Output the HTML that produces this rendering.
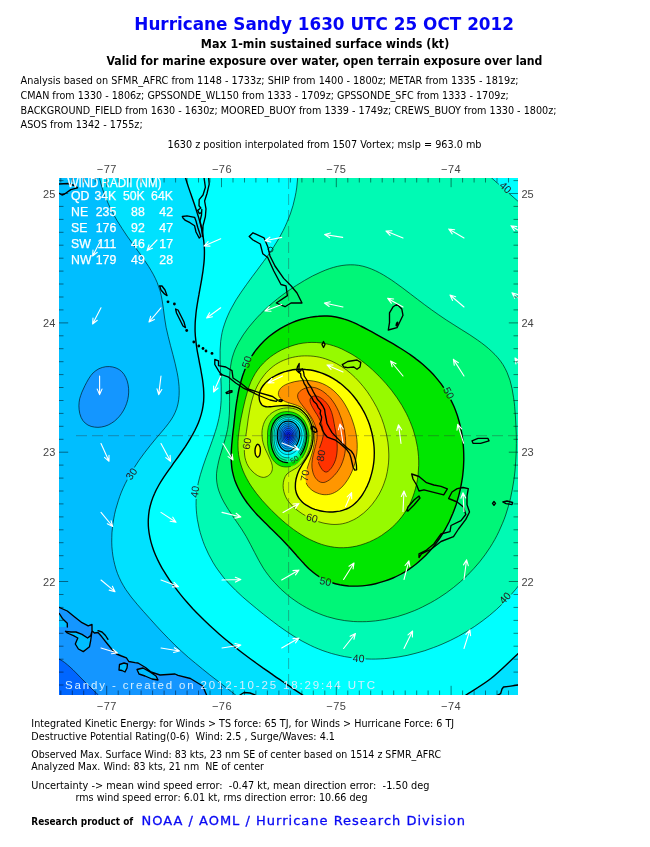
<!DOCTYPE html>
<html><head><meta charset="utf-8"><title>Hurricane Sandy 1630 UTC 25 OCT 2012</title>
<style>html,body{margin:0;padding:0;background:#fff}svg{display:block}text{font-family:"DejaVu Sans","Liberation Sans",sans-serif}.t{fill:#000;font-size:10px}.b{font-weight:bold}.ax{font-family:"Liberation Sans","DejaVu Sans",sans-serif;font-size:11px;fill:#444}.wr{font-family:"Liberation Sans","DejaVu Sans",sans-serif;font-size:12.3px;fill:#fff;stroke:#fff;stroke-width:0.25px}.bt{font-family:"Liberation Sans","DejaVu Sans",sans-serif;font-size:11.5px;fill:#d4efff}.cl{font-family:"Liberation Sans","DejaVu Sans",sans-serif;font-size:10.5px;fill:#222}</style></head><body>
<svg width="650" height="847" viewBox="0 0 650 847">
<rect width="650" height="847" fill="#fff"/>
<defs><clipPath id="m"><rect x="59" y="178" width="459" height="517"/></clipPath></defs>
<text x="134.3" y="29.8" class="b" textLength="379.7" lengthAdjust="spacingAndGlyphs" style="font-size:17px;fill:#0404f6">Hurricane Sandy 1630 UTC 25 OCT 2012</text>
<text x="200.8" y="48.2" class="b" textLength="248.5" lengthAdjust="spacingAndGlyphs" style="font-size:12px">Max 1-min sustained surface winds (kt)</text>
<text x="106.4" y="65.2" class="b" textLength="436.0" lengthAdjust="spacingAndGlyphs" style="font-size:12px">Valid for marine exposure over water, open terrain exposure over land</text>
<text x="20.6" y="84.2" class="t" textLength="498.0" lengthAdjust="spacingAndGlyphs" >Analysis based on SFMR_AFRC from 1148 - 1733z; SHIP from 1400 - 1800z; METAR from 1335 - 1819z;</text>
<text x="20.6" y="99.0" class="t" textLength="488.1" lengthAdjust="spacingAndGlyphs" >CMAN from 1330 - 1806z; GPSSONDE_WL150 from 1333 - 1709z; GPSSONDE_SFC from 1333 - 1709z;</text>
<text x="20.6" y="113.5" class="t" textLength="535.9" lengthAdjust="spacingAndGlyphs" >BACKGROUND_FIELD from 1630 - 1630z; MOORED_BUOY from 1339 - 1749z; CREWS_BUOY from 1330 - 1800z;</text>
<text x="20.6" y="128.4" class="t" textLength="122.1" lengthAdjust="spacingAndGlyphs" >ASOS from 1342 - 1755z;</text>
<text x="167.5" y="147.8" class="t" textLength="314.0" lengthAdjust="spacingAndGlyphs" >1630 z position interpolated from 1507 Vortex; mslp = 963.0 mb</text>
<g clip-path="url(#m)">
<rect x="58" y="177" width="461" height="519" fill="#00beff"/>
<mask id="lm" maskUnits="userSpaceOnUse" x="0" y="0" width="650" height="847"><rect width="650" height="847" fill="#fff"/>
<rect x="124.5" y="469.5" width="14" height="9" fill="#000" transform="rotate(-55 131.5 474.0)"/>
<rect x="188.0" y="487.2" width="14" height="9" fill="#000" transform="rotate(-82 195.0 491.7)"/>
<rect x="351.6" y="654.0" width="14" height="9" fill="#000" transform="rotate(3 358.6 658.5)"/>
<rect x="498.0" y="593.5" width="14" height="9" fill="#000" transform="rotate(-48 505.0 598.0)"/>
<rect x="498.5" y="183.0" width="14" height="9" fill="#000" transform="rotate(42 505.5 187.5)"/>
<rect x="239.8" y="357.5" width="14" height="9" fill="#000" transform="rotate(-72 246.8 362.0)"/>
<rect x="441.6" y="388.5" width="14" height="9" fill="#000" transform="rotate(62 448.6 393.0)"/>
<rect x="318.5" y="577.0" width="14" height="9" fill="#000" transform="rotate(12 325.5 581.5)"/>
<rect x="240.0" y="439.0" width="14" height="9" fill="#000" transform="rotate(-80 247.0 443.5)"/>
<rect x="305.0" y="513.5" width="14" height="9" fill="#000" transform="rotate(15 312.0 518.0)"/>
<rect x="298.0" y="471.0" width="14" height="9" fill="#000" transform="rotate(-80 305.0 475.5)"/>
<rect x="314.0" y="451.0" width="14" height="9" fill="#000" transform="rotate(-80 321.0 455.5)"/>
<rect x="287.5" y="455.0" width="14" height="9" fill="#000" transform="rotate(-35 294.5 459.5)"/>
</mask>
<defs>
<path id="s0" d="M78.9 405.8C78.9 403.3 79.2 401.0 79.7 398.7C80.3 396.5 81.1 394.4 81.9 392.2C82.8 390.1 83.8 387.9 84.9 385.7C86.1 383.5 87.2 381.1 88.6 378.9C89.9 376.8 91.4 374.6 93.1 372.9C94.9 371.2 96.9 369.8 99.0 368.7C101.1 367.7 103.5 367.0 105.8 366.7C108.1 366.5 110.6 366.5 112.8 367.0C115.0 367.5 117.2 368.3 119.1 369.5C121.0 370.7 122.7 372.4 124.0 374.3C125.3 376.2 126.4 378.6 127.2 380.9C127.9 383.2 128.4 385.8 128.6 388.3C128.8 390.8 128.7 393.4 128.4 395.9C128.1 398.4 127.5 400.9 126.7 403.3C125.9 405.6 124.9 408.0 123.7 410.1C122.5 412.3 121.0 414.4 119.5 416.2C117.9 418.1 116.1 419.8 114.3 421.3C112.4 422.7 110.3 424.0 108.2 425.0C106.1 425.9 103.8 426.7 101.5 427.0C99.2 427.4 96.7 427.5 94.5 427.1C92.2 426.8 89.9 426.2 88.0 425.1C86.1 424.0 84.2 422.5 82.9 420.6C81.5 418.8 80.5 416.2 79.8 413.7C79.2 411.3 78.9 408.3 78.9 405.8Z"/>
<path id="s1" d="M40.0 607.3L59.0 607.3L67.3 611.0L74.7 617.0L82.0 622.7L88.2 625.8L92.0 624.5L92.0 630.7L94.4 633.0L98.0 632.5L101.8 636.8L106.7 643.0L111.6 649.0L116.5 654.0L121.5 656.0L126.4 657.8L128.8 661.5L135.0 662.7L138.0 663.0L145.5 667.5L151.0 672.0L160.0 675.0L175.0 674.0L178.0 675.4L190.4 678.5L202.7 686.0L207.0 696.0L210.0 710.0L40.0 710.0Z"/>
<path id="s2" d="M58.0 613.5L59.3 613.5L62.4 618.4L67.3 623.3L67.3 627.0L58.0 627.0Z"/>
<path id="s3" d="M65.5 631.3L71.0 632.0L76.0 632.0L82.0 634.4L87.6 638.0L90.7 635.6L92.0 631.0L90.7 640.5L89.5 646.7L86.0 649.5L83.3 651.6L78.4 649.0L75.3 644.0L77.8 638.0L73.5 635.6L67.3 633.0Z"/>
<path id="s4" d="M119.5 664.5L124.0 663.0L127.5 664.0L127.0 668.0L125.0 672.0L122.0 670.5L119.0 670.0Z"/>
<path id="s5" d="M137.0 669.5L143.0 668.0L150.0 672.0L156.0 676.0L158.0 680.0L152.0 679.0L145.0 676.0L139.0 674.0Z"/>
<path id="s6" d="M45.0 655.0C47.3 655.7 54.8 657.0 59.0 659.0C63.2 661.0 66.2 663.7 70.0 667.0C73.8 670.3 78.3 675.3 82.0 679.0C85.7 682.7 89.3 686.3 92.0 689.0C94.7 691.7 96.2 692.8 98.4 695.0C100.6 697.2 103.9 700.8 105.0 702.0L40.0 720.0L40.0 655.0Z"/>
<path id="s7" d="M97.1 159.9C97.3 161.4 97.6 166.2 98.0 169.3C98.5 172.4 99.0 175.5 99.7 178.5C100.3 181.5 101.1 184.4 102.0 187.4C102.9 190.3 103.9 193.2 105.0 196.0C106.1 198.8 107.3 201.6 108.6 204.4C109.8 207.2 111.2 209.9 112.6 212.6C114.0 215.3 115.5 217.9 117.1 220.6C118.7 223.2 120.3 225.8 122.0 228.4C123.6 231.0 125.4 233.6 127.1 236.1C128.9 238.7 130.7 241.2 132.6 243.7C134.4 246.2 136.3 248.7 138.1 251.2C139.9 253.7 141.7 256.2 143.5 258.8C145.3 261.3 147.0 263.8 148.6 266.4C150.2 269.0 151.8 271.6 153.2 274.2C154.6 276.9 156.0 279.6 157.1 282.3C158.2 285.1 159.2 287.9 160.1 290.8C160.9 293.7 161.5 296.6 162.0 299.6C162.6 302.6 162.9 305.7 163.4 308.8C163.8 311.8 164.1 314.9 164.6 318.0C165.1 321.1 165.5 324.2 166.1 327.3C166.7 330.3 167.5 333.4 168.2 336.4C168.9 339.5 169.7 342.5 170.5 345.6C171.3 348.6 172.2 351.6 172.9 354.6C173.7 357.7 174.5 360.7 175.2 363.7C175.9 366.7 176.6 369.7 177.2 372.8C177.8 375.8 178.3 378.8 178.6 381.9C179.0 384.9 179.2 387.9 179.2 390.9C179.2 393.9 179.1 396.8 178.7 399.7C178.3 402.6 177.7 405.4 176.8 408.2C175.9 410.9 174.7 413.6 173.3 416.2C171.9 418.8 170.1 421.3 168.3 423.7C166.5 426.2 164.4 428.6 162.4 431.0C160.4 433.4 158.3 435.8 156.2 438.2C154.2 440.6 152.2 443.0 150.3 445.4C148.3 447.9 146.4 450.3 144.5 452.8C142.7 455.2 140.9 457.7 139.1 460.2C137.4 462.7 135.7 465.2 134.1 467.8C132.4 470.4 130.9 473.0 129.4 475.6C127.9 478.3 126.5 481.0 125.2 483.7C123.8 486.5 122.6 489.2 121.4 492.1C120.3 494.9 119.2 497.8 118.3 500.8C117.3 503.7 116.4 506.7 115.6 509.8C114.9 512.8 114.2 515.8 113.7 518.9C113.1 522.0 112.7 525.1 112.4 528.2C112.0 531.3 111.8 534.4 111.8 537.5C111.7 540.6 111.7 543.7 111.9 546.8C112.1 549.8 112.5 552.9 112.9 555.9C113.4 558.9 114.0 561.9 114.8 564.8C115.5 567.7 116.4 570.6 117.5 573.5C118.6 576.3 119.8 579.0 121.2 581.7C122.6 584.4 124.2 587.0 125.8 589.6C127.5 592.1 129.4 594.6 131.2 597.0C133.1 599.5 135.1 601.9 137.1 604.2C139.1 606.6 141.2 609.0 143.3 611.3C145.4 613.6 147.4 615.9 149.5 618.2C151.6 620.5 153.7 622.8 155.7 625.1C157.8 627.4 159.9 629.6 162.0 631.9C164.1 634.1 166.3 636.3 168.4 638.5C170.6 640.7 172.7 642.9 174.9 645.0C177.1 647.1 179.3 649.2 181.6 651.3C183.8 653.3 186.1 655.4 188.4 657.4C190.7 659.4 193.1 661.4 195.5 663.3C197.8 665.3 200.2 667.2 202.6 669.1C205.0 671.1 207.4 673.0 209.8 674.9C212.3 676.8 214.7 678.7 217.1 680.5C219.6 682.4 222.0 684.3 224.4 686.2C226.8 688.1 229.3 690.0 231.7 691.9C234.1 693.8 236.5 695.7 238.9 697.7C241.2 699.6 244.8 702.6 245.9 703.6L246.0 730.0L600.0 730.0L600.0 140.0L97.0 140.0Z"/>
<path id="s8" d="M181.0 160.2C181.4 161.6 182.2 165.9 182.9 168.8C183.7 171.7 184.5 174.6 185.4 177.5C186.3 180.5 187.2 183.4 188.2 186.4C189.2 189.3 190.2 192.3 191.3 195.3C192.3 198.2 193.3 201.2 194.4 204.2C195.4 207.2 196.4 210.2 197.3 213.3C198.3 216.3 199.2 219.3 200.0 222.3C200.8 225.3 201.5 228.4 202.2 231.4C202.8 234.4 203.3 237.4 203.7 240.5C204.1 243.5 204.3 246.5 204.4 249.5C204.5 252.6 204.4 255.6 204.3 258.6C204.1 261.6 203.8 264.6 203.4 267.7C203.1 270.7 202.6 273.7 202.1 276.7C201.7 279.7 201.1 282.8 200.5 285.8C200.0 288.8 199.4 291.8 198.9 294.9C198.3 297.9 197.8 301.0 197.3 304.0C196.8 307.1 196.3 310.1 196.0 313.2C195.7 316.3 195.4 319.4 195.2 322.5C195.1 325.6 195.0 328.7 195.1 331.8C195.2 334.9 195.5 338.0 195.9 341.2C196.2 344.3 196.7 347.5 197.2 350.6C197.8 353.8 198.4 356.9 199.0 360.1C199.5 363.2 200.2 366.3 200.8 369.5C201.3 372.6 201.9 375.7 202.4 378.7C202.8 381.8 203.2 384.9 203.5 387.9C203.7 390.9 203.9 393.9 203.8 396.9C203.8 399.8 203.6 402.7 203.1 405.6C202.7 408.5 202.1 411.3 201.3 414.1C200.5 416.9 199.6 419.7 198.5 422.4C197.4 425.1 196.1 427.8 194.8 430.5C193.4 433.2 192.0 435.8 190.4 438.4C188.9 441.1 187.2 443.7 185.5 446.3C183.8 448.8 182.0 451.4 180.2 454.0C178.4 456.6 176.6 459.1 174.7 461.7C172.9 464.3 171.0 466.8 169.2 469.4C167.4 471.9 165.6 474.5 163.8 477.1C162.1 479.7 160.4 482.3 158.9 485.0C157.4 487.7 155.9 490.4 154.7 493.2C153.4 496.0 152.3 498.8 151.4 501.7C150.5 504.6 149.7 507.6 149.2 510.6C148.7 513.7 148.4 516.8 148.3 519.8C148.2 522.9 148.3 526.0 148.6 529.0C148.9 532.0 149.4 535.0 150.0 537.9C150.6 540.9 151.4 543.8 152.4 546.7C153.3 549.6 154.4 552.5 155.6 555.3C156.8 558.1 158.1 560.9 159.6 563.6C161.0 566.4 162.5 569.1 164.2 571.7C165.8 574.4 167.5 577.0 169.3 579.6C171.0 582.2 172.9 584.7 174.8 587.2C176.7 589.7 178.6 592.2 180.6 594.6C182.5 597.0 184.5 599.4 186.6 601.8C188.6 604.1 190.7 606.4 192.8 608.7C194.9 610.9 197.0 613.1 199.2 615.3C201.4 617.5 203.6 619.7 205.8 621.8C208.0 623.9 210.2 626.0 212.5 628.1C214.8 630.2 217.1 632.2 219.4 634.2C221.7 636.2 224.1 638.2 226.5 640.2C228.8 642.1 231.2 644.1 233.6 646.0C236.0 647.9 238.4 649.8 240.9 651.7C243.3 653.5 245.8 655.4 248.2 657.2C250.7 659.1 253.2 660.9 255.7 662.7C258.2 664.5 260.7 666.3 263.2 668.1C265.7 669.8 268.2 671.6 270.8 673.4C273.3 675.1 275.8 676.9 278.4 678.6C280.9 680.4 283.5 682.1 286.0 683.9C288.6 685.6 291.1 687.3 293.7 689.1C296.2 690.8 298.8 692.5 301.3 694.2C303.9 696.0 306.4 697.7 309.0 699.4C311.5 701.2 315.3 703.8 316.6 704.6L317.0 730.0L452.0 730.0L452.0 704.0C454.3 702.5 459.6 699.2 466.0 695.0C472.4 690.8 482.4 685.2 490.6 678.8C498.8 672.4 508.4 662.7 515.0 656.6C521.6 650.5 527.5 644.4 530.0 642.0L600.0 642.0L600.0 140.0L181.0 140.0Z"/>
<path id="s9" d="M297.7 159.7C297.7 161.3 298.0 166.2 298.0 169.4C298.0 172.6 297.8 175.7 297.6 178.8C297.4 181.9 297.1 184.9 296.7 187.9C296.3 190.9 295.7 193.9 295.1 196.8C294.5 199.8 293.8 202.6 293.0 205.5C292.2 208.4 291.3 211.2 290.3 214.0C289.3 216.8 288.2 219.5 287.0 222.2C285.9 225.0 284.6 227.7 283.3 230.3C281.9 233.0 280.5 235.7 279.0 238.3C277.5 240.9 275.9 243.5 274.2 246.1C272.6 248.7 270.8 251.3 269.0 253.9C267.3 256.4 265.4 259.0 263.5 261.5C261.7 264.1 259.8 266.6 257.9 269.1C256.0 271.7 254.1 274.2 252.2 276.7C250.3 279.3 248.4 281.8 246.6 284.4C244.7 286.9 242.9 289.5 241.2 292.1C239.4 294.6 237.7 297.2 236.1 299.8C234.5 302.5 233.0 305.1 231.6 307.8C230.2 310.4 228.8 313.1 227.7 315.8C226.5 318.5 225.4 321.3 224.5 324.1C223.5 326.9 222.7 329.7 222.1 332.5C221.5 335.4 221.1 338.3 220.7 341.3C220.4 344.2 220.2 347.2 220.1 350.2C220.0 353.2 220.0 356.2 220.1 359.2C220.1 362.3 220.2 365.3 220.4 368.4C220.5 371.5 220.7 374.6 220.8 377.6C220.9 380.7 221.1 383.8 221.2 386.9C221.2 390.0 221.3 393.0 221.2 396.1C221.2 399.1 221.1 402.2 220.8 405.2C220.6 408.2 220.2 411.2 219.7 414.2C219.2 417.1 218.5 420.1 217.8 423.0C217.1 425.9 216.2 428.8 215.3 431.7C214.4 434.6 213.4 437.5 212.4 440.3C211.4 443.2 210.3 446.0 209.3 448.9C208.2 451.8 207.2 454.6 206.1 457.4C205.1 460.3 204.1 463.2 203.1 466.0C202.2 468.9 201.2 471.7 200.4 474.6C199.6 477.5 198.8 480.4 198.2 483.3C197.6 486.2 197.1 489.2 196.8 492.1C196.4 495.1 196.2 498.1 196.1 501.1C196.0 504.1 196.1 507.1 196.3 510.1C196.5 513.2 196.9 516.2 197.3 519.2C197.8 522.2 198.4 525.2 199.1 528.2C199.8 531.2 200.6 534.1 201.6 537.1C202.5 540.0 203.6 542.9 204.7 545.7C205.9 548.6 207.2 551.4 208.5 554.1C209.9 556.9 211.4 559.6 212.9 562.2C214.5 564.9 216.1 567.4 217.9 569.9C219.6 572.4 221.4 574.8 223.3 577.1C225.2 579.5 227.2 581.7 229.3 583.9C231.3 586.1 233.4 588.2 235.6 590.3C237.7 592.4 240.0 594.5 242.2 596.5C244.5 598.5 246.8 600.5 249.2 602.5C251.5 604.5 253.9 606.4 256.3 608.4C258.7 610.4 261.1 612.3 263.5 614.3C266.0 616.2 268.5 618.2 271.0 620.1C273.5 622.0 276.0 623.9 278.5 625.8C281.1 627.6 283.6 629.5 286.2 631.2C288.8 633.0 291.4 634.7 294.1 636.4C296.7 638.0 299.4 639.6 302.1 641.1C304.8 642.6 307.5 644.0 310.3 645.3C313.1 646.7 315.8 647.9 318.7 649.0C321.5 650.2 324.3 651.2 327.2 652.1C330.0 653.1 332.9 653.9 335.8 654.6C338.7 655.4 341.6 656.0 344.6 656.6C347.5 657.1 350.4 657.6 353.4 658.0C356.4 658.3 359.3 658.6 362.3 658.8C365.3 659.0 368.3 659.1 371.3 659.1C374.3 659.1 377.3 659.1 380.2 658.9C383.2 658.8 386.2 658.5 389.2 658.2C392.2 657.9 395.2 657.5 398.2 657.0C401.2 656.5 404.2 656.0 407.1 655.4C410.1 654.7 413.0 654.0 416.0 653.2C418.9 652.4 421.8 651.6 424.8 650.7C427.7 649.7 430.6 648.7 433.4 647.6C436.3 646.6 439.1 645.4 442.0 644.2C444.8 643.0 447.6 641.7 450.4 640.4C453.1 639.0 455.9 637.6 458.6 636.2C461.3 634.7 463.9 633.1 466.6 631.5C469.2 629.9 471.8 628.3 474.4 626.6C477.0 624.8 479.5 623.1 482.0 621.2C484.4 619.4 486.9 617.5 489.3 615.6C491.6 613.6 494.0 611.6 496.3 609.6C498.6 607.5 500.8 605.4 503.0 603.2C505.2 601.1 507.3 598.9 509.4 596.6C511.5 594.4 513.5 592.1 515.4 589.7C517.4 587.4 519.3 585.0 521.1 582.6C522.9 580.1 524.7 577.7 526.4 575.1C528.1 572.6 530.4 568.7 531.2 567.5L560.0 568.0L560.0 220.0L540.0 220.0C536.2 216.8 525.5 207.8 517.5 200.8C509.4 193.8 498.8 184.3 491.7 178.0C484.6 171.7 477.8 165.5 475.0 163.0L475.0 140.0L298.0 140.0Z"/>
<path id="s10" d="M243.2 334.9C244.9 332.5 246.6 330.1 248.4 327.7C250.2 325.4 252.1 323.1 254.1 320.9C256.1 318.6 258.1 316.4 260.3 314.2C262.4 312.0 264.6 309.9 266.8 307.8C269.1 305.8 271.4 303.7 273.8 301.8C276.2 299.8 278.7 297.8 281.1 296.0C283.6 294.1 286.2 292.2 288.7 290.5C291.3 288.7 293.9 287.0 296.6 285.3C299.2 283.6 301.9 282.0 304.6 280.4C307.3 278.9 310.0 277.3 312.7 275.9C315.5 274.5 318.2 273.2 321.0 272.0C323.8 270.8 326.5 269.6 329.3 268.7C332.1 267.8 334.9 266.9 337.7 266.3C340.5 265.7 343.3 265.2 346.1 265.0C348.9 264.8 351.7 264.7 354.5 264.9C357.3 265.1 360.1 265.5 362.9 266.2C365.7 266.9 368.4 267.8 371.2 268.9C373.9 270.0 376.7 271.3 379.4 272.7C382.1 274.1 384.8 275.7 387.4 277.4C390.1 279.0 392.7 280.8 395.3 282.7C397.9 284.5 400.4 286.4 402.9 288.2C405.5 290.1 407.9 292.0 410.4 293.9C412.8 295.7 415.2 297.6 417.6 299.4C419.9 301.2 422.3 302.9 424.6 304.7C427.0 306.4 429.3 308.2 431.7 309.9C434.0 311.6 436.4 313.3 438.8 314.9C441.2 316.6 443.7 318.3 446.2 319.9C448.7 321.6 451.3 323.2 453.9 324.8C456.5 326.5 459.2 328.1 461.8 329.8C464.5 331.4 467.2 333.1 469.8 334.8C472.4 336.5 475.0 338.3 477.6 340.1C480.1 341.8 482.6 343.7 485.0 345.6C487.3 347.5 489.7 349.4 491.8 351.5C494.0 353.5 496.0 355.6 497.9 357.8C499.7 360.0 501.5 362.3 503.0 364.7C504.5 367.1 505.8 369.7 507.0 372.3C508.1 374.9 509.1 377.6 510.0 380.3C510.8 383.1 511.5 385.9 512.1 388.8C512.7 391.7 513.2 394.7 513.6 397.7C514.1 400.7 514.4 403.7 514.7 406.7C515.0 409.8 515.2 412.8 515.4 415.9C515.6 419.0 515.8 422.0 515.9 425.1C516.1 428.2 516.2 431.3 516.3 434.3C516.3 437.4 516.4 440.5 516.4 443.6C516.3 446.6 516.3 449.7 516.2 452.8C516.1 455.8 515.9 458.9 515.7 461.9C515.5 465.0 515.3 468.0 515.0 471.0C514.7 474.0 514.3 477.1 513.9 480.0C513.4 483.0 513.0 486.0 512.4 489.0C511.9 491.9 511.3 494.9 510.6 497.8C509.9 500.7 509.2 503.6 508.3 506.5C507.5 509.3 506.6 512.2 505.7 515.0C504.7 517.8 503.7 520.6 502.5 523.3C501.4 526.1 500.2 528.8 498.9 531.5C497.6 534.2 496.3 536.8 494.8 539.5C493.4 542.1 491.8 544.6 490.2 547.2C488.6 549.7 486.9 552.2 485.1 554.7C483.3 557.1 481.5 559.5 479.6 561.9C477.7 564.2 475.7 566.5 473.6 568.8C471.6 571.0 469.4 573.2 467.3 575.4C465.1 577.5 462.9 579.6 460.6 581.6C458.3 583.6 455.9 585.6 453.5 587.5C451.1 589.4 448.7 591.2 446.2 593.0C443.7 594.8 441.1 596.5 438.5 598.1C435.9 599.7 433.3 601.3 430.7 602.7C428.0 604.2 425.3 605.6 422.6 606.9C419.8 608.3 417.1 609.5 414.3 610.7C411.5 611.8 408.7 612.9 405.8 613.9C403.0 614.9 400.1 615.8 397.3 616.6C394.4 617.4 391.5 618.1 388.6 618.7C385.7 619.4 382.8 619.9 379.8 620.3C376.9 620.8 374.0 621.1 371.0 621.3C368.1 621.6 365.2 621.7 362.2 621.7C359.3 621.7 356.3 621.7 353.4 621.5C350.5 621.3 347.6 621.0 344.7 620.6C341.7 620.1 338.8 619.6 336.0 619.0C333.1 618.3 330.2 617.5 327.4 616.7C324.5 615.8 321.7 614.8 318.9 613.6C316.1 612.5 313.3 611.3 310.6 609.9C307.9 608.6 305.2 607.1 302.6 605.5C300.0 604.0 297.4 602.3 294.9 600.5C292.3 598.8 289.9 596.9 287.5 595.0C285.1 593.0 282.8 591.0 280.6 588.9C278.4 586.8 276.3 584.6 274.3 582.3C272.2 580.1 270.3 577.8 268.5 575.4C266.6 573.0 264.9 570.6 263.3 568.1C261.7 565.6 260.3 563.0 258.8 560.4C257.4 557.9 256.1 555.2 254.7 552.6C253.4 550.0 252.0 547.3 250.6 544.7C249.2 542.0 247.8 539.4 246.3 536.7C244.8 534.1 243.1 531.5 241.5 528.9C239.8 526.3 238.0 523.8 236.2 521.2C234.5 518.6 232.7 516.1 231.0 513.5C229.3 510.9 227.6 508.4 226.1 505.8C224.5 503.2 223.1 500.7 221.8 498.0C220.6 495.4 219.5 492.8 218.6 490.2C217.8 487.5 217.1 484.8 216.8 482.1C216.4 479.4 216.4 476.6 216.5 473.8C216.7 471.0 217.2 468.1 217.8 465.3C218.3 462.4 219.1 459.5 219.9 456.5C220.8 453.6 221.7 450.6 222.6 447.6C223.5 444.7 224.5 441.6 225.3 438.6C226.1 435.6 226.9 432.5 227.5 429.5C228.1 426.4 228.5 423.4 228.8 420.3C229.2 417.2 229.3 414.1 229.5 411.0C229.6 408.0 229.6 404.9 229.6 401.8C229.6 398.8 229.5 395.7 229.5 392.7C229.5 389.7 229.4 386.7 229.5 383.7C229.5 380.7 229.5 377.8 229.7 374.9C229.9 371.9 230.1 369.1 230.6 366.3C231.0 363.4 231.5 360.7 232.2 357.9C232.9 355.2 233.9 352.6 234.9 349.9C236.0 347.3 237.3 344.8 238.7 342.3C240.1 339.8 241.6 337.3 243.2 334.9Z"/>
<path id="s11" d="M276.0 331.3C278.5 329.6 281.1 328.0 283.8 326.6C286.5 325.1 289.3 323.8 292.1 322.6C294.9 321.4 297.8 320.4 300.7 319.5C303.6 318.6 306.5 317.9 309.5 317.4C312.4 316.8 315.4 316.4 318.4 316.2C321.4 315.9 324.3 315.9 327.3 316.0C330.2 316.1 333.1 316.5 336.0 317.0C338.8 317.5 341.6 318.2 344.4 319.1C347.2 319.9 349.9 321.0 352.6 322.2C355.3 323.3 358.0 324.6 360.6 326.0C363.3 327.3 366.0 328.7 368.6 330.2C371.3 331.6 374.0 333.1 376.7 334.6C379.4 336.1 382.1 337.6 384.8 339.1C387.5 340.6 390.2 342.1 392.9 343.7C395.5 345.3 398.2 346.9 400.8 348.5C403.4 350.1 406.0 351.8 408.5 353.5C411.0 355.3 413.5 357.0 415.9 358.9C418.4 360.7 420.7 362.6 423.0 364.5C425.2 366.5 427.4 368.5 429.5 370.6C431.6 372.7 433.7 374.8 435.6 377.1C437.5 379.3 439.3 381.6 441.1 383.9C442.8 386.3 444.4 388.7 446.0 391.2C447.5 393.7 449.0 396.2 450.3 398.8C451.7 401.4 452.9 404.1 454.1 406.8C455.2 409.5 456.2 412.2 457.2 415.0C458.1 417.8 458.9 420.7 459.7 423.6C460.4 426.5 461.1 429.4 461.6 432.3C462.1 435.3 462.6 438.3 462.9 441.3C463.2 444.3 463.5 447.3 463.6 450.3C463.8 453.4 463.8 456.4 463.8 459.5C463.7 462.5 463.6 465.6 463.4 468.6C463.1 471.7 462.8 474.7 462.4 477.8C461.9 480.8 461.4 483.9 460.8 486.9C460.2 489.9 459.5 492.9 458.7 495.9C457.9 498.8 457.0 501.8 456.1 504.7C455.1 507.6 454.0 510.5 452.9 513.3C451.7 516.1 450.5 518.9 449.2 521.7C447.8 524.4 446.4 527.1 444.9 529.8C443.4 532.4 441.8 535.0 440.2 537.5C438.5 540.0 436.7 542.4 434.9 544.8C433.1 547.2 431.1 549.5 429.1 551.7C427.1 553.9 425.0 556.1 422.9 558.1C420.7 560.2 418.5 562.1 416.1 564.0C413.8 565.9 411.4 567.6 408.9 569.3C406.4 571.0 403.8 572.5 401.2 574.0C398.5 575.4 395.8 576.8 393.0 578.0C390.2 579.2 387.3 580.3 384.4 581.2C381.5 582.2 378.6 583.0 375.6 583.7C372.6 584.4 369.6 585.0 366.6 585.4C363.6 585.8 360.5 586.0 357.5 586.1C354.5 586.2 351.5 586.2 348.6 586.0C345.6 585.7 342.7 585.3 339.9 584.8C337.0 584.2 334.2 583.5 331.5 582.5C328.8 581.6 326.1 580.5 323.6 579.2C321.0 577.9 318.6 576.4 316.3 574.7C313.9 573.0 311.7 571.1 309.5 569.2C307.3 567.2 305.3 565.0 303.2 562.8C301.1 560.6 299.1 558.3 297.0 556.0C295.0 553.7 293.0 551.3 290.9 549.0C288.8 546.7 286.7 544.4 284.6 542.2C282.4 539.9 280.2 537.7 278.0 535.6C275.8 533.4 273.6 531.2 271.4 529.1C269.2 526.9 267.0 524.8 264.8 522.6C262.6 520.5 260.5 518.3 258.4 516.1C256.4 513.9 254.3 511.7 252.4 509.4C250.5 507.2 248.7 504.8 246.9 502.5C245.2 500.1 243.6 497.7 242.1 495.3C240.6 492.8 239.2 490.3 238.0 487.7C236.8 485.2 235.7 482.6 234.7 479.9C233.8 477.2 233.1 474.5 232.5 471.7C231.9 468.9 231.6 466.0 231.4 463.1C231.2 460.2 231.1 457.3 231.2 454.3C231.3 451.3 231.5 448.2 231.7 445.2C232.0 442.1 232.3 439.0 232.6 435.9C232.9 432.8 233.3 429.7 233.7 426.6C234.0 423.5 234.3 420.4 234.7 417.3C235.0 414.2 235.4 411.1 235.8 408.0C236.2 405.0 236.6 401.9 237.2 398.9C237.7 395.9 238.2 392.9 238.8 390.0C239.5 387.0 240.2 384.1 241.0 381.2C241.8 378.4 242.6 375.6 243.7 372.8C244.7 370.0 245.8 367.3 247.0 364.7C248.3 362.1 249.7 359.5 251.2 357.0C252.7 354.5 254.4 352.1 256.2 349.7C258.1 347.4 260.0 345.1 262.1 343.0C264.2 340.8 266.4 338.8 268.7 336.8C271.0 334.9 273.5 333.0 276.0 331.3Z"/>
<path id="s12" d="M255.2 373.6C256.7 371.1 258.5 368.6 260.4 366.4C262.4 364.1 264.5 361.9 266.7 360.0C268.9 358.0 271.3 356.1 273.8 354.5C276.3 352.8 278.9 351.3 281.6 349.9C284.3 348.6 287.1 347.4 290.0 346.4C292.8 345.4 295.7 344.6 298.6 343.9C301.5 343.3 304.5 342.9 307.5 342.6C310.4 342.4 313.4 342.3 316.3 342.5C319.3 342.7 322.2 343.0 325.1 343.6C327.9 344.1 330.8 344.9 333.6 345.8C336.4 346.7 339.2 347.8 341.9 349.0C344.7 350.3 347.4 351.7 350.0 353.2C352.7 354.7 355.3 356.3 357.8 358.1C360.4 359.8 362.9 361.7 365.3 363.7C367.8 365.6 370.2 367.7 372.5 369.8C374.8 371.9 377.1 374.1 379.3 376.4C381.5 378.6 383.6 380.9 385.7 383.3C387.7 385.6 389.7 388.0 391.6 390.4C393.5 392.9 395.3 395.4 397.1 397.9C398.8 400.4 400.4 402.9 402.0 405.5C403.5 408.1 405.0 410.8 406.4 413.5C407.7 416.1 409.0 418.9 410.1 421.6C411.3 424.4 412.3 427.2 413.3 430.0C414.2 432.8 415.0 435.7 415.7 438.6C416.4 441.5 417.0 444.4 417.5 447.4C417.9 450.4 418.3 453.4 418.5 456.4C418.7 459.4 418.8 462.5 418.7 465.5C418.6 468.6 418.4 471.7 418.1 474.7C417.7 477.7 417.3 480.8 416.6 483.8C416.0 486.8 415.2 489.7 414.3 492.6C413.4 495.5 412.3 498.4 411.1 501.2C409.8 503.9 408.5 506.7 406.9 509.3C405.4 511.9 403.6 514.4 401.8 516.8C399.9 519.3 397.9 521.6 395.8 523.8C393.6 526.0 391.4 528.0 389.0 530.0C386.6 531.9 384.1 533.7 381.6 535.4C379.0 537.1 376.3 538.6 373.6 539.9C370.9 541.3 368.1 542.5 365.2 543.5C362.4 544.5 359.5 545.4 356.6 546.1C353.7 546.7 350.8 547.2 347.8 547.5C344.9 547.7 341.9 547.8 339.0 547.7C336.1 547.5 333.2 547.2 330.3 546.6C327.4 546.1 324.5 545.3 321.7 544.4C318.9 543.5 316.1 542.4 313.3 541.1C310.5 539.9 307.8 538.5 305.1 537.0C302.4 535.4 299.8 533.8 297.2 532.0C294.5 530.2 292.0 528.4 289.5 526.4C287.0 524.5 284.5 522.4 282.1 520.3C279.7 518.2 277.3 516.0 275.1 513.8C272.8 511.6 270.5 509.4 268.4 507.1C266.2 504.9 264.1 502.6 262.1 500.3C260.1 498.0 258.2 495.6 256.4 493.3C254.6 490.9 252.8 488.5 251.2 486.1C249.6 483.7 248.1 481.2 246.8 478.7C245.4 476.2 244.2 473.6 243.1 471.0C242.1 468.4 241.1 465.7 240.4 463.0C239.6 460.3 239.0 457.5 238.6 454.7C238.2 451.8 238.0 448.9 238.0 445.9C237.9 443.0 238.1 439.9 238.3 436.9C238.6 433.8 239.0 430.7 239.5 427.6C239.9 424.4 240.5 421.3 241.1 418.1C241.8 415.0 242.4 411.8 243.1 408.7C243.8 405.6 244.5 402.4 245.3 399.3C246.1 396.3 246.9 393.2 247.8 390.3C248.8 387.3 249.8 384.4 251.0 381.6C252.3 378.9 253.6 376.2 255.2 373.6Z"/>
<path id="s13" d="M258.0 384.5C258.9 382.8 259.9 381.0 261.0 379.4C262.1 377.8 263.3 376.1 264.6 374.6C265.8 373.1 267.2 371.6 268.6 370.2C270.1 368.9 271.6 367.5 273.2 366.3C274.7 365.1 276.4 364.0 278.1 363.0C279.9 362.0 281.7 361.0 283.5 360.3C285.4 359.5 287.3 358.8 289.3 358.2C291.3 357.6 293.3 357.2 295.3 356.8C297.4 356.4 299.4 356.2 301.5 356.0C303.6 355.9 305.7 355.8 307.7 355.9C309.8 355.9 311.9 356.1 313.9 356.3C315.9 356.5 317.9 356.9 319.8 357.3C321.8 357.7 323.7 358.3 325.6 358.9C327.5 359.5 329.3 360.2 331.1 360.9C332.9 361.7 334.7 362.6 336.4 363.5C338.1 364.4 339.8 365.4 341.5 366.5C343.1 367.5 344.7 368.6 346.3 369.8C347.9 371.0 349.4 372.3 350.9 373.6C352.4 374.9 353.9 376.3 355.3 377.7C356.7 379.1 358.1 380.5 359.4 382.0C360.8 383.5 362.1 385.1 363.4 386.7C364.6 388.3 365.9 389.9 367.1 391.5C368.3 393.2 369.4 394.9 370.5 396.6C371.6 398.3 372.7 400.1 373.7 401.9C374.7 403.6 375.7 405.4 376.7 407.3C377.6 409.1 378.5 411.0 379.3 412.8C380.1 414.7 380.9 416.6 381.7 418.5C382.4 420.4 383.1 422.4 383.7 424.3C384.3 426.2 384.9 428.2 385.4 430.2C386.0 432.1 386.4 434.1 386.8 436.1C387.2 438.1 387.6 440.1 387.9 442.1C388.1 444.1 388.4 446.1 388.5 448.0C388.7 450.0 388.8 452.0 388.8 454.0C388.9 456.0 388.8 458.0 388.7 460.0C388.6 462.0 388.5 463.9 388.2 465.9C388.0 467.9 387.7 469.8 387.3 471.7C386.9 473.7 386.5 475.6 386.0 477.5C385.4 479.4 384.8 481.3 384.1 483.2C383.5 485.0 382.7 486.9 381.9 488.7C381.1 490.5 380.1 492.3 379.2 494.1C378.2 495.8 377.1 497.6 375.9 499.3C374.8 500.9 373.6 502.6 372.3 504.2C371.0 505.8 369.6 507.3 368.2 508.8C366.8 510.3 365.3 511.7 363.7 513.0C362.2 514.3 360.6 515.5 358.9 516.6C357.3 517.8 355.6 518.8 353.8 519.7C352.1 520.6 350.3 521.4 348.4 522.1C346.6 522.7 344.7 523.3 342.8 523.7C340.9 524.1 338.9 524.3 337.0 524.4C335.0 524.5 333.0 524.5 331.0 524.3C329.0 524.1 327.0 523.8 325.0 523.4C323.0 523.0 321.0 522.5 319.0 521.8C317.1 521.2 315.1 520.5 313.2 519.6C311.2 518.8 309.3 517.9 307.5 516.9C305.6 515.9 303.8 514.8 302.1 513.7C300.3 512.6 298.6 511.4 297.0 510.1C295.4 508.8 293.9 507.5 292.5 506.1C291.1 504.7 289.8 503.2 288.6 501.7C287.5 500.1 286.5 498.5 285.7 496.8C284.8 495.0 284.2 493.2 283.8 491.3C283.3 489.4 283.1 487.4 283.1 485.4C283.2 483.3 283.4 481.1 284.1 479.2C284.7 477.3 285.6 475.5 286.9 474.0C288.2 472.6 290.2 471.7 291.9 470.6C293.6 469.5 295.6 468.6 297.2 467.4C298.8 466.2 300.2 464.8 301.5 463.4C302.8 461.9 303.9 460.3 304.9 458.6C306.0 456.9 306.9 455.1 307.7 453.3C308.6 451.4 309.3 449.5 309.9 447.5C310.5 445.6 311.1 443.6 311.4 441.6C311.7 439.5 311.9 437.5 311.9 435.4C311.9 433.4 311.6 431.3 311.2 429.3C310.8 427.3 310.2 425.3 309.5 423.5C308.7 421.6 307.8 419.8 306.7 418.1C305.6 416.5 304.3 414.9 302.9 413.6C301.5 412.3 299.9 411.1 298.2 410.3C296.5 409.4 294.6 408.7 292.7 408.3C290.8 407.9 288.7 407.8 286.7 407.9C284.7 408.0 282.6 408.3 280.6 408.8C278.6 409.4 276.6 410.1 274.8 411.1C273.0 412.1 271.2 413.2 269.8 414.6C268.3 415.9 266.9 417.5 265.9 419.2C264.8 420.8 264.0 422.7 263.4 424.6C262.7 426.5 262.3 428.6 262.1 430.6C261.9 432.7 261.9 434.8 262.1 436.8C262.2 438.9 262.6 440.9 263.1 442.9C263.6 444.8 264.3 446.6 265.0 448.4C265.7 450.2 266.6 451.9 267.5 453.8C268.3 455.6 269.3 457.4 270.1 459.3C270.9 461.2 271.9 463.3 272.2 465.3C272.5 467.3 272.5 469.4 271.9 471.1C271.3 472.8 270.0 474.6 268.5 475.6C267.1 476.6 265.1 477.4 263.3 477.4C261.4 477.3 259.2 476.4 257.3 475.4C255.5 474.3 253.5 472.6 252.0 471.0C250.4 469.4 249.2 467.7 248.1 466.0C247.1 464.2 246.3 462.4 245.8 460.6C245.2 458.8 244.8 456.9 244.6 455.0C244.4 453.1 244.3 451.2 244.4 449.2C244.4 447.3 244.6 445.3 244.8 443.3C245.0 441.3 245.3 439.3 245.6 437.3C245.9 435.2 246.2 433.2 246.5 431.2C246.8 429.1 247.1 427.1 247.4 425.0C247.6 423.0 247.9 421.0 248.2 418.9C248.5 416.9 248.8 414.9 249.2 412.9C249.5 410.9 249.9 408.9 250.3 406.9C250.7 405.0 251.2 403.0 251.7 401.1C252.2 399.1 252.8 397.2 253.4 395.4C254.0 393.5 254.7 391.6 255.5 389.8C256.2 388.0 257.1 386.2 258.0 384.5Z"/>
<path id="s14" d="M259.1 397.0C259.1 395.4 259.3 393.9 259.7 392.4C260.1 390.9 260.7 389.5 261.4 388.1C262.2 386.8 263.1 385.5 264.2 384.3C265.2 383.0 266.4 381.9 267.7 380.8C269.0 379.7 270.4 378.7 271.9 377.7C273.3 376.8 274.9 375.9 276.4 375.1C278.0 374.3 279.6 373.6 281.2 373.0C282.8 372.4 284.4 371.8 286.0 371.4C287.6 370.9 289.3 370.5 290.9 370.2C292.5 369.9 294.2 369.7 295.8 369.5C297.5 369.4 299.1 369.3 300.7 369.3C302.4 369.3 304.0 369.3 305.6 369.5C307.2 369.6 308.8 369.8 310.4 370.0C312.0 370.3 313.6 370.6 315.1 371.0C316.7 371.4 318.2 371.8 319.7 372.3C321.3 372.8 322.8 373.4 324.2 374.0C325.7 374.6 327.2 375.3 328.6 376.0C330.1 376.7 331.5 377.5 332.9 378.3C334.2 379.2 335.6 380.0 336.9 380.9C338.3 381.9 339.6 382.8 340.9 383.8C342.1 384.8 343.4 385.9 344.6 387.0C345.8 388.1 347.0 389.2 348.2 390.3C349.4 391.5 350.5 392.7 351.6 393.9C352.7 395.2 353.7 396.4 354.8 397.7C355.8 399.0 356.8 400.3 357.7 401.7C358.7 403.0 359.6 404.4 360.5 405.8C361.4 407.2 362.2 408.6 363.0 410.1C363.8 411.5 364.6 413.0 365.3 414.5C366.0 416.0 366.7 417.5 367.3 419.0C368.0 420.5 368.6 422.0 369.1 423.6C369.7 425.1 370.2 426.7 370.6 428.3C371.1 429.8 371.5 431.4 371.9 433.0C372.3 434.6 372.6 436.2 372.9 437.8C373.2 439.4 373.4 441.0 373.6 442.7C373.8 444.3 374.0 445.9 374.1 447.5C374.2 449.1 374.3 450.8 374.3 452.4C374.3 454.0 374.2 455.6 374.2 457.3C374.1 458.9 374.0 460.5 373.8 462.1C373.6 463.7 373.4 465.3 373.1 466.9C372.8 468.5 372.5 470.1 372.1 471.7C371.7 473.3 371.3 474.8 370.8 476.4C370.4 478.0 369.8 479.5 369.3 481.0C368.7 482.6 368.0 484.1 367.4 485.6C366.7 487.1 365.9 488.5 365.2 490.0C364.4 491.5 363.5 492.9 362.6 494.3C361.7 495.7 360.8 497.1 359.8 498.3C358.7 499.6 357.7 500.9 356.5 502.0C355.4 503.2 354.2 504.2 352.9 505.2C351.6 506.2 350.3 507.0 348.9 507.8C347.5 508.5 346.0 509.2 344.5 509.7C343.0 510.3 341.4 510.7 339.8 511.1C338.2 511.4 336.6 511.6 334.9 511.8C333.3 512.0 331.6 512.0 329.9 512.0C328.2 511.9 326.5 511.8 324.8 511.6C323.2 511.4 321.5 511.1 319.8 510.7C318.1 510.3 316.5 509.8 314.9 509.3C313.3 508.7 311.7 508.1 310.2 507.3C308.7 506.6 307.3 505.8 305.9 504.9C304.6 504.0 303.3 503.0 302.2 501.9C301.1 500.8 300.0 499.7 299.1 498.4C298.3 497.2 297.5 495.8 296.9 494.4C296.3 493.0 295.9 491.5 295.6 489.9C295.4 488.3 295.3 486.6 295.4 485.0C295.4 483.3 295.6 481.6 295.9 479.9C296.2 478.3 296.7 476.6 297.2 475.0C297.8 473.3 298.4 471.8 299.1 470.3C299.8 468.8 300.7 467.4 301.5 466.0C302.3 464.6 303.2 463.2 304.0 461.9C304.9 460.5 305.7 459.2 306.6 457.8C307.4 456.4 308.2 455.1 308.9 453.6C309.6 452.2 310.2 450.7 310.8 449.2C311.3 447.6 311.8 446.0 312.2 444.4C312.5 442.8 312.8 441.2 313.0 439.5C313.1 437.9 313.2 436.2 313.1 434.5C313.1 432.9 312.9 431.2 312.6 429.5C312.3 427.9 311.9 426.2 311.4 424.6C310.9 423.1 310.2 421.5 309.5 420.0C308.8 418.5 307.9 417.1 307.0 415.8C306.0 414.5 305.0 413.3 303.9 412.2C302.7 411.1 301.5 410.1 300.2 409.2C298.9 408.4 297.4 407.7 296.0 407.1C294.5 406.6 292.9 406.2 291.3 406.0C289.7 405.7 288.0 405.6 286.3 405.5C284.6 405.4 282.8 405.5 281.1 405.6C279.3 405.7 277.5 405.9 275.8 406.1C274.0 406.3 272.2 406.6 270.6 406.7C268.9 406.8 267.3 407.0 265.9 406.7C264.5 406.4 263.2 406.0 262.2 405.2C261.2 404.3 260.4 403.0 259.9 401.6C259.4 400.2 259.2 398.5 259.1 397.0Z"/>
<path id="s15" d="M257.7 444.3C258.4 444.3 259.6 445.9 260.0 447.0C260.4 448.1 260.4 449.7 260.4 451.0C260.3 452.3 260.1 453.9 259.7 455.0C259.2 456.1 258.4 457.3 257.7 457.3C257.0 457.3 256.1 456.1 255.6 455.0C255.2 453.9 255.0 452.3 255.0 451.0C255.0 449.7 255.2 448.1 255.6 447.0C256.1 445.9 257.0 444.3 257.7 444.3Z"/>
<path id="s16" d="M278.4 394.5C278.2 393.2 278.5 391.8 279.1 390.6C279.6 389.4 280.6 388.2 281.7 387.2C282.8 386.2 284.2 385.4 285.5 384.7C286.9 384.0 288.5 383.4 290.1 382.9C291.6 382.4 293.2 382.0 294.8 381.6C296.4 381.3 298.0 381.0 299.6 380.8C301.2 380.6 302.8 380.5 304.3 380.4C305.9 380.4 307.5 380.4 309.1 380.5C310.6 380.6 312.2 380.8 313.7 381.1C315.2 381.4 316.7 381.7 318.2 382.1C319.7 382.6 321.1 383.1 322.5 383.6C323.9 384.2 325.2 384.9 326.5 385.6C327.8 386.3 329.1 387.1 330.3 388.0C331.5 388.9 332.7 389.8 333.8 390.8C334.9 391.8 336.0 392.8 337.0 393.9C338.1 395.0 339.1 396.2 340.0 397.3C341.0 398.5 341.9 399.8 342.8 401.0C343.6 402.3 344.5 403.6 345.3 405.0C346.1 406.3 346.8 407.7 347.5 409.0C348.2 410.4 348.9 411.9 349.5 413.3C350.2 414.7 350.8 416.2 351.4 417.6C351.9 419.1 352.4 420.5 352.9 422.0C353.4 423.4 353.9 424.9 354.3 426.4C354.7 427.8 355.1 429.3 355.4 430.8C355.7 432.2 356.0 433.7 356.3 435.2C356.5 436.7 356.7 438.2 356.9 439.6C357.0 441.1 357.1 442.6 357.2 444.1C357.2 445.6 357.2 447.1 357.2 448.6C357.1 450.1 357.0 451.5 356.9 453.0C356.7 454.5 356.5 456.0 356.2 457.5C356.0 459.0 355.7 460.5 355.3 462.0C354.9 463.5 354.4 465.0 353.9 466.5C353.4 468.0 352.8 469.5 352.2 471.0C351.6 472.5 350.9 474.0 350.1 475.5C349.4 476.9 348.6 478.3 347.7 479.7C346.8 481.1 345.9 482.4 344.9 483.7C343.9 484.9 342.9 486.1 341.8 487.2C340.7 488.3 339.5 489.3 338.3 490.2C337.2 491.1 335.9 491.9 334.6 492.5C333.3 493.2 332.0 493.7 330.6 494.1C329.2 494.4 327.8 494.7 326.3 494.7C324.9 494.8 323.3 494.7 321.8 494.4C320.3 494.1 318.7 493.6 317.2 493.0C315.8 492.5 314.3 491.7 313.0 490.9C311.7 490.0 310.4 489.0 309.4 487.9C308.4 486.9 307.5 485.7 306.8 484.4C306.2 483.2 305.8 481.8 305.6 480.4C305.4 479.1 305.4 477.6 305.5 476.1C305.6 474.6 305.9 473.1 306.3 471.6C306.7 470.0 307.2 468.5 307.6 466.9C308.1 465.3 308.7 463.8 309.2 462.2C309.7 460.7 310.3 459.1 310.7 457.6C311.2 456.1 311.7 454.6 312.1 453.1C312.5 451.6 312.9 450.1 313.2 448.6C313.5 447.2 313.8 445.7 314.1 444.2C314.3 442.8 314.5 441.3 314.6 439.8C314.7 438.4 314.7 436.9 314.7 435.4C314.7 434.0 314.6 432.5 314.4 431.0C314.2 429.5 313.9 428.0 313.6 426.5C313.2 425.0 312.8 423.5 312.3 422.1C311.7 420.6 311.1 419.2 310.4 417.8C309.7 416.5 308.9 415.2 308.0 413.9C307.1 412.7 306.1 411.6 305.0 410.5C303.9 409.5 302.7 408.5 301.4 407.6C300.1 406.8 298.6 406.1 297.2 405.5C295.7 404.9 294.0 404.4 292.5 403.9C290.9 403.4 289.3 403.1 287.8 402.5C286.3 402.0 284.8 401.5 283.6 400.7C282.3 400.0 281.0 399.1 280.2 398.0C279.3 397.0 278.6 395.7 278.4 394.5Z"/>
<path id="s17" d="M297.8 394.4C298.1 393.4 298.8 392.4 299.7 391.5C300.6 390.6 301.8 389.8 303.1 389.1C304.4 388.5 305.9 387.9 307.3 387.6C308.8 387.3 310.4 387.1 311.9 387.2C313.4 387.3 314.8 387.6 316.2 388.0C317.6 388.5 319.0 389.1 320.3 389.8C321.6 390.5 322.9 391.3 324.0 392.2C325.2 393.0 326.3 393.9 327.3 394.9C328.3 395.8 329.3 396.8 330.2 397.8C331.1 398.8 331.9 399.9 332.7 401.0C333.5 402.0 334.2 403.2 334.9 404.3C335.6 405.5 336.3 406.7 336.9 407.9C337.5 409.1 338.1 410.3 338.7 411.6C339.2 412.9 339.7 414.2 340.2 415.5C340.7 416.8 341.2 418.1 341.7 419.5C342.1 420.8 342.5 422.2 342.9 423.6C343.3 425.0 343.6 426.4 343.9 427.8C344.2 429.2 344.5 430.6 344.7 432.0C344.9 433.4 345.1 434.9 345.3 436.3C345.4 437.7 345.5 439.1 345.6 440.6C345.7 442.0 345.7 443.4 345.7 444.8C345.6 446.2 345.5 447.7 345.4 449.1C345.3 450.5 345.1 451.8 344.9 453.2C344.6 454.6 344.4 455.9 344.0 457.3C343.7 458.6 343.3 459.9 342.8 461.2C342.4 462.5 341.8 463.8 341.3 465.0C340.7 466.3 340.1 467.5 339.3 468.7C338.6 469.9 337.9 471.0 337.0 472.2C336.2 473.3 335.3 474.4 334.3 475.4C333.3 476.4 332.3 477.5 331.2 478.4C330.1 479.4 328.9 480.4 327.6 481.0C326.4 481.7 325.2 482.3 323.9 482.5C322.7 482.7 321.4 482.5 320.3 482.1C319.1 481.6 318.0 480.7 317.0 479.8C316.1 478.9 315.2 477.6 314.5 476.4C313.8 475.1 313.3 473.7 312.9 472.3C312.5 470.9 312.2 469.4 312.0 467.9C311.9 466.4 311.9 465.0 311.9 463.5C312.0 462.1 312.2 460.6 312.4 459.2C312.6 457.8 312.9 456.3 313.2 454.9C313.5 453.5 313.9 452.1 314.3 450.7C314.7 449.3 315.1 448.0 315.4 446.6C315.7 445.2 316.1 443.9 316.3 442.5C316.6 441.2 316.9 439.8 317.0 438.5C317.1 437.2 317.2 435.9 317.1 434.6C317.1 433.3 316.9 432.0 316.7 430.7C316.5 429.5 316.1 428.2 315.7 426.9C315.3 425.7 314.9 424.4 314.3 423.2C313.8 421.9 313.2 420.7 312.5 419.4C311.8 418.2 311.0 417.0 310.2 415.7C309.4 414.5 308.6 413.3 307.7 412.1C306.8 410.8 305.8 409.6 304.8 408.4C303.9 407.1 302.8 405.9 301.9 404.7C301.0 403.5 300.0 402.3 299.4 401.1C298.7 399.9 298.1 398.8 297.8 397.7C297.6 396.5 297.5 395.4 297.8 394.4Z"/>
<path id="s18" d="M310.0 399.6C310.2 398.5 310.9 397.5 311.8 396.9C312.6 396.3 314.0 395.9 315.2 395.9C316.4 395.9 317.8 396.3 319.1 396.9C320.4 397.5 321.7 398.5 322.9 399.4C324.0 400.3 325.1 401.4 326.0 402.4C327.0 403.5 327.7 404.6 328.5 405.6C329.2 406.7 329.8 407.9 330.3 409.0C330.8 410.1 331.3 411.3 331.7 412.5C332.1 413.7 332.4 414.9 332.7 416.1C333.0 417.3 333.3 418.6 333.5 419.9C333.8 421.1 334.0 422.4 334.2 423.7C334.5 425.0 334.7 426.3 334.9 427.7C335.2 429.0 335.4 430.4 335.7 431.7C335.9 433.1 336.1 434.4 336.3 435.8C336.5 437.2 336.7 438.5 336.8 439.9C336.9 441.3 337.1 442.7 337.1 444.0C337.2 445.4 337.3 446.7 337.2 448.1C337.2 449.4 337.2 450.7 337.0 452.0C336.9 453.3 336.8 454.6 336.5 455.9C336.3 457.2 336.0 458.4 335.6 459.7C335.2 460.9 334.7 462.1 334.2 463.2C333.6 464.4 333.0 465.5 332.3 466.6C331.6 467.7 330.7 468.9 329.8 469.8C328.9 470.7 327.9 471.7 326.9 472.0C325.8 472.2 324.7 471.9 323.7 471.2C322.7 470.5 321.7 469.0 320.9 467.7C320.1 466.5 319.4 465.0 318.9 463.7C318.4 462.3 318.1 460.9 317.9 459.6C317.7 458.2 317.7 456.9 317.7 455.5C317.8 454.2 318.1 452.9 318.4 451.7C318.7 450.4 319.1 449.1 319.5 447.9C319.9 446.7 320.4 445.4 320.9 444.2C321.3 443.0 321.8 441.7 322.1 440.5C322.5 439.3 322.8 438.0 323.0 436.7C323.2 435.5 323.3 434.2 323.2 432.9C323.2 431.6 323.0 430.3 322.8 429.0C322.6 427.7 322.3 426.4 321.9 425.1C321.5 423.8 321.0 422.6 320.5 421.3C320.0 420.1 319.4 418.9 318.8 417.8C318.2 416.6 317.6 415.6 316.9 414.5C316.2 413.4 315.5 412.3 314.8 411.2C314.1 410.0 313.3 408.8 312.6 407.5C311.9 406.2 311.0 404.7 310.6 403.4C310.2 402.0 309.8 400.6 310.0 399.6Z"/>
<path id="s19" d="M309.0 435.9C309.0 438.1 308.5 441.0 308.1 443.4C307.6 445.7 306.9 447.9 306.2 450.0C305.4 452.0 304.5 454.0 303.4 455.8C302.4 457.5 301.2 459.1 299.9 460.5C298.7 461.9 297.3 463.1 295.8 464.1C294.4 465.0 292.9 465.8 291.3 466.3C289.7 466.7 287.9 467.0 286.2 467.0C284.6 467.0 282.9 466.7 281.3 466.3C279.8 465.8 278.4 465.0 277.1 464.1C275.7 463.1 274.5 461.9 273.4 460.5C272.4 459.1 271.4 457.5 270.6 455.8C269.8 454.0 269.1 452.0 268.6 450.0C268.1 447.9 267.7 445.7 267.5 443.4C267.4 441.0 267.5 438.1 267.5 435.9C267.5 433.7 267.5 431.9 267.8 430.1C268.0 428.2 268.5 426.5 269.0 424.9C269.6 423.3 270.3 421.7 271.2 420.3C272.1 419.0 273.1 417.7 274.2 416.6C275.3 415.5 276.6 414.6 278.0 413.8C279.3 413.1 280.7 412.5 282.3 412.1C283.8 411.7 285.6 411.5 287.2 411.5C288.9 411.5 290.7 411.7 292.3 412.1C293.8 412.5 295.3 413.1 296.7 413.8C298.1 414.6 299.5 415.5 300.7 416.6C301.9 417.7 303.1 419.0 304.1 420.3C305.0 421.7 305.9 423.3 306.6 424.9C307.3 426.5 307.9 428.2 308.3 430.1C308.7 431.9 309.0 433.7 309.0 435.9Z"/>
<path id="s20" d="M306.8 435.6C306.8 437.5 306.4 440.0 306.0 442.1C305.6 444.1 305.0 446.0 304.4 447.8C303.7 449.6 302.9 451.3 302.0 452.8C301.1 454.3 300.1 455.7 299.0 456.9C297.9 458.1 296.7 459.1 295.4 460.0C294.2 460.8 292.9 461.4 291.5 461.9C290.1 462.3 288.6 462.5 287.2 462.5C285.7 462.5 284.2 462.3 282.9 461.9C281.6 461.4 280.4 460.8 279.2 460.0C278.1 459.1 277.1 458.1 276.1 456.9C275.2 455.7 274.4 454.3 273.7 452.8C273.0 451.3 272.4 449.6 271.9 447.8C271.5 446.0 271.2 444.1 271.0 442.1C270.9 440.0 271.0 437.5 271.0 435.6C271.0 433.7 271.0 432.1 271.2 430.6C271.5 429.0 271.8 427.5 272.3 426.1C272.8 424.7 273.4 423.3 274.2 422.1C274.9 420.9 275.8 419.8 276.8 418.9C277.8 418.0 278.9 417.1 280.0 416.5C281.2 415.8 282.4 415.3 283.8 415.0C285.1 414.7 286.6 414.5 288.0 414.5C289.5 414.5 291.0 414.7 292.4 415.0C293.7 415.3 295.0 415.8 296.2 416.5C297.4 417.1 298.6 418.0 299.7 418.9C300.7 419.8 301.7 420.9 302.5 422.1C303.4 423.3 304.1 424.7 304.7 426.1C305.3 427.5 305.8 429.0 306.2 430.6C306.5 432.1 306.8 433.7 306.8 435.6Z"/>
<path id="s21" d="M305.6 435.4C305.6 437.2 305.2 439.5 304.9 441.4C304.5 443.3 304.0 445.0 303.4 446.6C302.7 448.3 302.0 449.9 301.2 451.2C300.3 452.6 299.4 453.9 298.4 455.0C297.4 456.1 296.3 457.1 295.1 457.9C294.0 458.6 292.8 459.2 291.5 459.6C290.2 460.0 288.8 460.2 287.5 460.2C286.2 460.2 284.8 460.0 283.6 459.6C282.4 459.2 281.2 458.6 280.2 457.9C279.2 457.1 278.2 456.1 277.3 455.0C276.5 453.9 275.7 452.6 275.0 451.2C274.4 449.9 273.9 448.3 273.5 446.6C273.1 445.0 272.8 443.3 272.6 441.4C272.5 439.5 272.6 437.2 272.6 435.4C272.6 433.7 272.6 432.2 272.8 430.8C273.0 429.3 273.4 427.9 273.8 426.7C274.3 425.4 274.9 424.1 275.5 423.0C276.2 421.9 277.0 420.9 277.9 420.1C278.8 419.2 279.8 418.4 280.9 417.8C282.0 417.2 283.1 416.8 284.4 416.5C285.6 416.2 287.0 416.0 288.3 416.0C289.6 416.0 291.0 416.2 292.3 416.5C293.5 416.8 294.7 417.2 295.8 417.8C297.0 418.4 298.0 419.2 299.0 420.1C300.0 420.9 300.9 421.9 301.7 423.0C302.4 424.1 303.1 425.4 303.7 426.7C304.3 427.9 304.7 429.3 305.0 430.8C305.3 432.2 305.6 433.7 305.6 435.4Z"/>
<path id="s22" d="M304.3 435.3C304.3 436.9 304.0 439.0 303.6 440.7C303.3 442.4 302.8 444.0 302.3 445.5C301.7 447.0 301.0 448.4 300.3 449.7C299.5 450.9 298.6 452.1 297.7 453.1C296.8 454.1 295.8 455.0 294.8 455.7C293.7 456.4 292.6 456.9 291.4 457.3C290.3 457.6 289.0 457.8 287.8 457.8C286.6 457.8 285.3 457.6 284.2 457.3C283.1 456.9 282.1 456.4 281.1 455.7C280.2 455.0 279.3 454.1 278.5 453.1C277.7 452.1 277.0 450.9 276.4 449.7C275.8 448.4 275.4 447.0 275.0 445.5C274.6 444.0 274.4 442.4 274.2 440.7C274.1 439.0 274.2 436.9 274.2 435.3C274.2 433.7 274.2 432.4 274.4 431.0C274.6 429.7 274.9 428.5 275.3 427.3C275.7 426.1 276.3 425.0 276.9 424.0C277.5 423.0 278.3 422.1 279.1 421.3C279.9 420.5 280.8 419.8 281.8 419.3C282.8 418.7 283.8 418.3 284.9 418.0C286.1 417.7 287.3 417.6 288.5 417.6C289.7 417.6 291.0 417.7 292.2 418.0C293.3 418.3 294.4 418.7 295.4 419.3C296.4 419.8 297.4 420.5 298.3 421.3C299.2 422.1 300.0 423.0 300.7 424.0C301.4 425.0 302.1 426.1 302.6 427.3C303.1 428.5 303.5 429.7 303.8 431.0C304.1 432.4 304.3 433.7 304.3 435.3Z"/>
<path id="s23" d="M302.0 434.8C302.0 436.2 301.7 438.1 301.4 439.6C301.1 441.1 300.7 442.5 300.2 443.8C299.7 445.1 299.1 446.3 298.5 447.5C297.8 448.6 297.1 449.6 296.3 450.5C295.5 451.4 294.6 452.1 293.7 452.7C292.8 453.3 291.9 453.8 290.9 454.1C289.8 454.4 288.7 454.6 287.7 454.6C286.6 454.6 285.6 454.4 284.6 454.1C283.6 453.8 282.7 453.3 281.9 452.7C281.1 452.1 280.3 451.4 279.6 450.5C279.0 449.6 278.3 448.6 277.8 447.5C277.3 446.3 276.9 445.1 276.6 443.8C276.3 442.5 276.0 441.1 275.9 439.6C275.8 438.1 275.9 436.2 275.9 434.8C275.9 433.4 275.9 432.3 276.1 431.1C276.2 429.9 276.5 428.8 276.9 427.8C277.2 426.8 277.7 425.8 278.2 424.9C278.8 424.0 279.4 423.2 280.1 422.5C280.8 421.8 281.6 421.2 282.5 420.8C283.3 420.3 284.2 419.9 285.2 419.7C286.2 419.4 287.3 419.3 288.3 419.3C289.4 419.3 290.5 419.4 291.5 419.7C292.5 419.9 293.4 420.3 294.3 420.8C295.2 421.2 296.0 421.8 296.8 422.5C297.6 423.2 298.3 424.0 298.9 424.9C299.5 425.8 300.1 426.8 300.5 427.8C300.9 428.8 301.3 429.9 301.5 431.1C301.8 432.3 302.0 433.4 302.0 434.8Z"/>
<path id="s24" d="M299.8 434.3C299.8 435.4 299.5 436.8 299.3 438.1C299.0 439.3 298.7 440.5 298.2 441.6C297.8 442.8 297.3 443.9 296.7 444.8C296.1 445.8 295.5 446.7 294.8 447.5C294.1 448.3 293.3 449.0 292.5 449.5C291.7 450.1 290.9 450.5 290.1 450.8C289.3 451.1 288.4 451.2 287.6 451.2C286.7 451.2 285.9 451.1 285.1 450.8C284.3 450.5 283.6 450.1 282.8 449.5C282.1 449.0 281.5 448.3 280.9 447.5C280.3 446.7 279.7 445.8 279.3 444.8C278.8 443.9 278.4 442.8 278.1 441.6C277.9 440.5 277.6 439.3 277.5 438.1C277.4 436.8 277.5 435.4 277.5 434.3C277.5 433.2 277.5 432.3 277.7 431.3C277.8 430.4 278.0 429.4 278.4 428.5C278.7 427.6 279.1 426.8 279.6 426.0C280.1 425.2 280.7 424.5 281.3 423.9C281.9 423.3 282.6 422.7 283.3 422.3C284.1 421.9 284.8 421.6 285.6 421.3C286.4 421.1 287.3 421.0 288.1 421.0C288.9 421.0 289.8 421.1 290.6 421.3C291.4 421.6 292.2 421.9 293.0 422.3C293.8 422.7 294.5 423.3 295.2 423.9C295.9 424.5 296.5 425.2 297.0 426.0C297.6 426.8 298.1 427.6 298.5 428.5C298.9 429.4 299.2 430.4 299.4 431.3C299.6 432.3 299.8 433.2 299.8 434.3Z"/>
<path id="s25" d="M298.2 434.4C298.2 435.4 298.0 436.6 297.8 437.7C297.5 438.7 297.2 439.8 296.8 440.8C296.5 441.7 296.0 442.7 295.5 443.5C295.0 444.4 294.5 445.2 293.9 445.8C293.3 446.5 292.6 447.1 291.9 447.6C291.3 448.0 290.5 448.4 289.8 448.6C289.1 448.9 288.4 449.0 287.7 449.0C287.0 449.0 286.2 448.9 285.6 448.6C284.9 448.4 284.2 448.0 283.6 447.6C283.0 447.1 282.4 446.5 281.9 445.8C281.4 445.2 280.9 444.4 280.5 443.5C280.1 442.7 279.8 441.7 279.5 440.8C279.3 439.8 279.1 438.7 279.0 437.7C278.9 436.6 279.0 435.4 279.0 434.4C279.0 433.5 279.0 432.7 279.1 431.9C279.3 431.1 279.5 430.2 279.7 429.5C280.0 428.7 280.4 428.0 280.8 427.3C281.2 426.6 281.7 426.0 282.3 425.5C282.8 425.0 283.4 424.5 284.0 424.1C284.6 423.8 285.3 423.5 286.0 423.3C286.7 423.1 287.4 423.0 288.1 423.0C288.8 423.0 289.6 423.1 290.3 423.3C291.0 423.5 291.7 423.8 292.3 424.1C293.0 424.5 293.6 425.0 294.2 425.5C294.8 426.0 295.3 426.6 295.8 427.3C296.3 428.0 296.7 428.7 297.0 429.5C297.4 430.2 297.7 431.1 297.9 431.9C298.0 432.7 298.2 433.5 298.2 434.4Z"/>
<path id="s26" d="M296.8 434.6C296.8 435.4 296.6 436.4 296.4 437.3C296.2 438.2 296.0 439.1 295.6 440.0C295.3 440.8 294.9 441.6 294.5 442.3C294.1 443.0 293.6 443.7 293.1 444.3C292.6 444.9 292.0 445.4 291.4 445.8C290.8 446.2 290.2 446.5 289.6 446.7C289.0 446.9 288.4 447.0 287.8 447.0C287.1 447.0 286.5 446.9 285.9 446.7C285.4 446.5 284.8 446.2 284.3 445.8C283.7 445.4 283.2 444.9 282.8 444.3C282.3 443.7 281.9 443.0 281.6 442.3C281.3 441.6 281.0 440.8 280.8 440.0C280.6 439.1 280.4 438.2 280.3 437.3C280.3 436.4 280.3 435.4 280.3 434.6C280.3 433.7 280.3 433.1 280.4 432.4C280.5 431.7 280.7 431.0 280.9 430.3C281.2 429.7 281.5 429.0 281.9 428.5C282.2 427.9 282.6 427.4 283.1 426.9C283.6 426.5 284.1 426.1 284.6 425.8C285.2 425.5 285.7 425.2 286.3 425.0C286.9 424.9 287.5 424.8 288.2 424.8C288.8 424.8 289.4 424.9 290.0 425.0C290.6 425.2 291.2 425.5 291.8 425.8C292.3 426.1 292.9 426.5 293.4 426.9C293.9 427.4 294.3 427.9 294.8 428.5C295.2 429.0 295.5 429.7 295.8 430.3C296.1 431.0 296.3 431.7 296.5 432.4C296.7 433.1 296.8 433.7 296.8 434.6Z"/>
<path id="s27" d="M295.5 434.7C295.5 435.4 295.3 436.2 295.2 437.0C295.0 437.7 294.8 438.5 294.5 439.2C294.3 439.9 293.9 440.5 293.6 441.1C293.2 441.7 292.8 442.3 292.4 442.8C291.9 443.2 291.4 443.6 291.0 444.0C290.5 444.3 290.0 444.6 289.4 444.7C288.9 444.9 288.4 445.0 287.9 445.0C287.4 445.0 286.8 444.9 286.4 444.7C285.9 444.6 285.4 444.3 284.9 444.0C284.5 443.6 284.1 443.2 283.7 442.8C283.3 442.3 283.0 441.7 282.7 441.1C282.4 440.5 282.2 439.9 282.0 439.2C281.8 438.5 281.7 437.7 281.6 437.0C281.6 436.2 281.6 435.4 281.6 434.7C281.6 434.0 281.6 433.5 281.7 432.9C281.8 432.3 281.9 431.7 282.1 431.2C282.3 430.6 282.6 430.1 282.9 429.6C283.2 429.2 283.6 428.7 284.0 428.4C284.3 428.0 284.8 427.7 285.2 427.4C285.7 427.1 286.2 426.9 286.7 426.8C287.2 426.7 287.7 426.6 288.2 426.6C288.7 426.6 289.3 426.7 289.8 426.8C290.3 426.9 290.8 427.1 291.3 427.4C291.7 427.7 292.2 428.0 292.6 428.4C293.0 428.7 293.4 429.2 293.8 429.6C294.1 430.1 294.4 430.6 294.7 431.2C294.9 431.7 295.1 432.3 295.3 432.9C295.4 433.5 295.5 434.0 295.5 434.7Z"/>
<path id="s28" d="M294.1 434.9C294.1 435.5 294.0 436.2 293.8 436.8C293.7 437.4 293.5 438.0 293.3 438.5C293.1 439.1 292.8 439.6 292.6 440.1C292.3 440.6 291.9 441.0 291.6 441.4C291.2 441.8 290.9 442.1 290.5 442.4C290.1 442.6 289.7 442.9 289.3 443.0C288.9 443.1 288.4 443.2 288.0 443.2C287.6 443.2 287.2 443.1 286.8 443.0C286.4 442.9 286.0 442.6 285.7 442.4C285.3 442.1 285.0 441.8 284.7 441.4C284.4 441.0 284.1 440.6 283.9 440.1C283.7 439.6 283.5 439.1 283.3 438.5C283.2 438.0 283.1 437.4 283.0 436.8C283.0 436.2 283.0 435.5 283.0 434.9C283.0 434.4 283.0 433.9 283.1 433.5C283.2 433.0 283.3 432.5 283.4 432.1C283.6 431.7 283.8 431.2 284.0 430.9C284.3 430.5 284.6 430.1 284.9 429.8C285.2 429.5 285.5 429.3 285.9 429.0C286.3 428.8 286.7 428.7 287.1 428.6C287.5 428.5 287.9 428.4 288.3 428.4C288.7 428.4 289.1 428.5 289.5 428.6C289.9 428.7 290.3 428.8 290.7 429.0C291.1 429.3 291.5 429.5 291.8 429.8C292.1 430.1 292.5 430.5 292.7 430.9C293.0 431.2 293.2 431.7 293.4 432.1C293.6 432.5 293.8 433.0 293.9 433.5C294.0 433.9 294.1 434.4 294.1 434.9Z"/>
<path id="s29" d="M292.8 435.1C292.8 435.5 292.7 436.1 292.6 436.5C292.5 437.0 292.4 437.4 292.2 437.8C292.0 438.3 291.8 438.7 291.6 439.0C291.4 439.4 291.1 439.7 290.9 440.0C290.6 440.3 290.3 440.6 290.0 440.8C289.7 441.0 289.4 441.1 289.1 441.2C288.8 441.3 288.5 441.4 288.1 441.4C287.8 441.4 287.5 441.3 287.2 441.2C286.9 441.1 286.6 441.0 286.3 440.8C286.1 440.6 285.8 440.3 285.6 440.0C285.4 439.7 285.1 439.4 285.0 439.0C284.8 438.7 284.7 438.3 284.5 437.8C284.4 437.4 284.4 437.0 284.3 436.5C284.3 436.1 284.3 435.5 284.3 435.1C284.3 434.7 284.3 434.4 284.4 434.0C284.4 433.7 284.5 433.3 284.6 433.0C284.8 432.7 284.9 432.3 285.1 432.1C285.3 431.8 285.5 431.5 285.7 431.3C286.0 431.0 286.2 430.8 286.5 430.7C286.8 430.5 287.1 430.4 287.4 430.3C287.7 430.2 288.0 430.2 288.3 430.2C288.7 430.2 289.0 430.2 289.3 430.3C289.6 430.4 289.9 430.5 290.2 430.7C290.5 430.8 290.8 431.0 291.0 431.3C291.3 431.5 291.5 431.8 291.7 432.1C292.0 432.3 292.1 432.7 292.3 433.0C292.4 433.3 292.6 433.7 292.6 434.0C292.7 434.4 292.8 434.7 292.8 435.1Z"/>
<path id="s30" d="M291.4 435.3C291.4 435.6 291.3 436.0 291.3 436.3C291.2 436.6 291.1 436.9 291.0 437.2C290.9 437.5 290.7 437.8 290.6 438.0C290.4 438.2 290.3 438.5 290.1 438.7C289.9 438.9 289.7 439.0 289.5 439.2C289.3 439.3 289.1 439.4 288.9 439.5C288.7 439.6 288.4 439.6 288.2 439.6C288.0 439.6 287.8 439.6 287.6 439.5C287.4 439.4 287.2 439.3 287.0 439.2C286.8 439.0 286.6 438.9 286.5 438.7C286.3 438.5 286.2 438.2 286.1 438.0C285.9 437.8 285.8 437.5 285.8 437.2C285.7 436.9 285.6 436.6 285.6 436.3C285.6 436.0 285.6 435.6 285.6 435.3C285.6 435.1 285.6 434.8 285.6 434.6C285.7 434.4 285.7 434.1 285.8 433.9C285.9 433.7 286.0 433.5 286.1 433.3C286.3 433.1 286.4 432.9 286.6 432.7C286.7 432.6 286.9 432.4 287.1 432.3C287.3 432.2 287.5 432.1 287.7 432.1C287.9 432.0 288.1 432.0 288.4 432.0C288.6 432.0 288.8 432.0 289.0 432.1C289.2 432.1 289.4 432.2 289.6 432.3C289.8 432.4 290.0 432.6 290.2 432.7C290.4 432.9 290.5 433.1 290.7 433.3C290.8 433.5 290.9 433.7 291.1 433.9C291.2 434.1 291.2 434.4 291.3 434.6C291.4 434.8 291.4 435.1 291.4 435.3Z"/>
<path id="s31" d="M290.0 435.5C290.0 435.7 290.0 435.9 289.9 436.0C289.9 436.2 289.8 436.4 289.8 436.5C289.7 436.7 289.6 436.9 289.6 437.0C289.5 437.1 289.4 437.3 289.3 437.4C289.2 437.5 289.1 437.6 289.0 437.7C288.9 437.7 288.8 437.8 288.6 437.8C288.5 437.9 288.4 437.9 288.3 437.9C288.2 437.9 288.1 437.9 288.0 437.8C287.8 437.8 287.7 437.7 287.6 437.7C287.5 437.6 287.4 437.5 287.4 437.4C287.3 437.3 287.2 437.1 287.1 437.0C287.1 436.9 287.0 436.7 287.0 436.5C286.9 436.4 286.9 436.2 286.9 436.0C286.9 435.9 286.9 435.7 286.9 435.5C286.9 435.3 286.9 435.2 286.9 435.1C286.9 434.9 287.0 434.8 287.0 434.7C287.1 434.5 287.1 434.4 287.2 434.3C287.3 434.2 287.3 434.1 287.4 434.0C287.5 433.9 287.6 433.8 287.7 433.8C287.8 433.7 287.9 433.7 288.0 433.6C288.1 433.6 288.3 433.6 288.4 433.6C288.5 433.6 288.6 433.6 288.7 433.6C288.8 433.7 288.9 433.7 289.1 433.8C289.2 433.8 289.3 433.9 289.4 434.0C289.5 434.1 289.5 434.2 289.6 434.3C289.7 434.4 289.8 434.5 289.8 434.7C289.9 434.8 289.9 434.9 289.9 435.1C290.0 435.2 290.0 435.3 290.0 435.5Z"/>
</defs>
<use href="#s0" fill="#1496ff"/>
<use href="#s1" fill="#1496ff"/>
<use href="#s2" fill="#00beff"/>
<use href="#s3" fill="#00beff"/>
<use href="#s4" fill="#00beff"/>
<use href="#s5" fill="#00beff"/>
<use href="#s6" fill="#0066ff"/>
<use href="#s7" fill="#00e1ff"/>
<use href="#s8" fill="#00ffff"/>
<use href="#s9" fill="#00fab4"/>
<use href="#s10" fill="#00f678"/>
<use href="#s11" fill="#00e600"/>
<use href="#s12" fill="#96fa00"/>
<use href="#s13" fill="#cdfa00"/>
<use href="#s14" fill="#ffff00"/>
<use href="#s15" fill="#ffff00"/>
<use href="#s16" fill="#ff9600"/>
<use href="#s17" fill="#ff6900"/>
<use href="#s18" fill="#ff3200"/>
<use href="#s19" fill="#00e600"/>
<use href="#s20" fill="#00f678"/>
<use href="#s21" fill="#00fab4"/>
<use href="#s22" fill="#00ffff"/>
<use href="#s23" fill="#00f0ff"/>
<use href="#s24" fill="#00beff"/>
<use href="#s25" fill="#00a5ff"/>
<use href="#s26" fill="#0a8cff"/>
<use href="#s27" fill="#0a72ff"/>
<use href="#s28" fill="#0a58ff"/>
<use href="#s29" fill="#0840ff"/>
<use href="#s30" fill="#0428ff"/>
<use href="#s31" fill="#0010f0"/>
<g mask="url(#lm)" fill="none">
<use href="#s0" stroke="#000" stroke-width="0.6"/>
<use href="#s6" stroke="#000" stroke-width="0.6"/>
<use href="#s7" stroke="#000" stroke-width="0.6"/>
<use href="#s8" stroke="#000" stroke-width="1.4"/>
<use href="#s9" stroke="#000" stroke-width="0.6"/>
<use href="#s10" stroke="#000" stroke-width="0.6"/>
<use href="#s11" stroke="#000" stroke-width="1.4"/>
<use href="#s12" stroke="#000" stroke-width="0.6"/>
<use href="#s13" stroke="#000" stroke-width="0.6"/>
<use href="#s14" stroke="#000" stroke-width="1.4"/>
<use href="#s15" stroke="#000" stroke-width="1.4"/>
<use href="#s16" stroke="#000" stroke-width="0.6"/>
<use href="#s17" stroke="#000" stroke-width="0.6"/>
<use href="#s18" stroke="#000" stroke-width="0.6"/>
<use href="#s19" stroke="#000" stroke-width="0.5"/>
<use href="#s20" stroke="#000" stroke-width="1.25"/>
<use href="#s21" stroke="#000" stroke-width="0.5"/>
<use href="#s22" stroke="#000" stroke-width="0.5"/>
<use href="#s23" stroke="#000" stroke-width="0.5"/>
<use href="#s24" stroke="#000" stroke-width="1.25"/>
<use href="#s25" stroke="#000" stroke-width="0.5"/>
<use href="#s26" stroke="#000" stroke-width="0.5"/>
<use href="#s27" stroke="#000" stroke-width="0.5"/>
<use href="#s28" stroke="#000" stroke-width="0.5"/>
<use href="#s29" stroke="#000" stroke-width="0.5"/>
<use href="#s30" stroke="#000" stroke-width="0.5"/>
<use href="#s31" stroke="#000" stroke-width="0.5"/>
</g>
<path d="M288.6 178V695M76 435.7H518" fill="none" stroke="#333" stroke-opacity="0.75" stroke-width="0.5" stroke-dasharray="11 5"/>
<path d="M203.8 176.0L205.4 187.3L203.0 195.0L199.2 199.6L199.0 205.8L200.8 208.0L199.5 209.0L197.7 210.4L199.2 213.5L201.5 212.7L201.8 209.5L201.5 215.0L200.0 221.0L201.5 227.3L202.6 236.5L203.0 225.8L205.4 216.5L206.0 208.8L204.6 201.0L207.0 193.5L209.2 184.2L208.5 176.0ZM182.3 216.5L187.0 215.8L194.6 217.3L196.0 221.0L197.7 227.3L200.8 236.5L199.2 238.0L196.0 232.0L194.6 225.8L190.0 222.7L185.4 220.4L183.0 218.0ZM159.6 285.8L162.0 286.0L165.0 290.0L167.0 295.6L164.5 294.0L161.0 290.0ZM175.6 309.0L178.0 310.0L181.0 316.0L184.0 322.0L185.5 327.6L183.0 326.0L179.5 319.0L176.5 313.0ZM214.8 359.5L218.5 360.8L218.5 365.7L225.8 367.0L232.0 370.6L233.0 378.0L240.6 383.0L248.0 389.0L260.0 392.8L272.6 396.5L277.5 400.0L276.3 401.4L270.0 400.0L257.8 395.0L243.0 387.8L235.7 383.0L228.0 376.8L221.0 374.3L218.5 370.6L214.8 364.5ZM226.0 392.5L229.0 391.0L232.0 390.6L232.0 392.0L229.0 393.0L226.5 393.5ZM279.0 400.0L281.0 399.6L282.6 400.4L281.0 401.6L279.0 401.2ZM249.2 236.5L253.0 232.8L264.0 237.8L267.7 246.4L270.0 256.0L275.0 266.0L283.7 278.4L291.0 285.8L297.0 293.0L302.0 303.0L291.0 303.0L285.0 306.7L276.3 303.0L287.4 295.6L286.0 285.8L281.0 284.5L273.8 271.0L267.7 257.5L262.8 253.8L260.3 244.0L253.0 240.0ZM299.2 363.5L297.6 366.5L296.6 370.2L298.5 372.2L300.3 371.2L302.2 368.8L303.6 372.0L304.2 376.0L306.5 379.5L308.2 383.5L311.2 387.5L313.4 392.0L315.6 395.8L317.5 399.5L320.3 402.4L322.8 406.0L324.6 409.6L325.3 414.5L326.2 419.0L327.0 423.5L329.4 428.0L332.0 432.6L335.8 436.6L339.5 440.4L343.5 444.6L347.5 448.2L351.2 451.0L353.6 454.4L355.4 459.5L356.4 465.0L356.6 469.8L354.8 470.2L353.2 467.5L352.0 462.5L351.0 458.0L349.6 453.6L346.4 449.2L343.4 446.6L339.4 443.0L335.5 440.2L331.2 438.6L327.4 437.2L324.6 434.0L322.4 430.2L321.4 426.6L319.8 423.8L321.2 420.5L321.6 417.0L320.2 413.8L320.6 410.4L318.2 407.6L316.6 404.0L313.6 401.2L311.8 397.6L309.2 394.2L307.4 390.4L306.2 386.6L304.2 383.6L303.0 380.0L301.0 377.0L300.6 373.6L298.8 372.4ZM311.6 426.2L314.2 427.0L316.4 429.2L317.0 431.6L315.2 432.4L312.8 431.0L311.2 428.6ZM342.3 364.6L347.7 361.5L357.0 360.0L360.8 362.3L360.0 367.0L357.0 369.2L353.8 367.0L347.7 367.7L343.8 367.0ZM323.5 341.5L325.0 344.5L323.5 347.5L322.0 344.5ZM397.0 304.2L401.8 309.0L403.0 315.3L399.4 322.7L397.0 327.6L388.3 330.0L389.5 322.7L389.5 312.8L393.2 306.7ZM411.7 474.0L419.0 476.5L426.5 482.7L433.8 485.0L441.0 486.4L447.4 488.8L443.7 494.8L433.8 492.3L424.0 489.8L419.0 491.0L416.6 485.0L413.0 479.0ZM419.0 496.0L420.0 498.0L414.0 505.0L408.0 511.0L406.8 510.8L408.0 507.0L414.0 500.0ZM457.2 488.6L463.0 487.5L468.3 488.6L467.0 496.0L467.0 504.6L469.5 512.0L465.8 519.4L458.5 529.0L453.5 536.6L441.0 541.5L431.4 549.0L421.5 553.8L419.0 557.5L419.0 553.8L426.5 550.0L433.8 544.0L441.0 534.0L450.0 531.7L451.0 525.5L461.0 520.6L465.8 514.5L463.4 507.0L457.2 502.0L448.6 498.5L452.0 492.0ZM472.0 440.8L478.0 438.4L488.0 438.4L489.0 440.8L480.6 443.3L473.0 443.3ZM492.5 503.4L494.0 501.5L495.5 503.4L494.0 505.4ZM502.8 502.0L507.0 501.0L512.6 502.5L512.0 504.6L506.0 503.6ZM65.5 631.3L71.0 632.0L76.0 632.0L82.0 634.4L87.6 638.0L90.7 635.6L92.0 631.0L90.7 640.5L89.5 646.7L86.0 649.5L83.3 651.6L78.4 649.0L75.3 644.0L77.8 638.0L73.5 635.6L67.3 633.0ZM119.5 664.5L124.0 663.0L127.5 664.0L127.0 668.0L125.0 672.0L122.0 670.5L119.0 670.0ZM137.0 669.5L143.0 668.0L150.0 672.0L156.0 676.0L158.0 680.0L152.0 679.0L145.0 676.0L139.0 674.0ZM59.0 184.0L68.3 183.5L75.7 186.0L77.5 187.8L70.8 189.6L64.6 194.0L62.0 195.0L59.0 193.3M496.0 696.0L500.6 693.7L502.0 689.0L503.5 687.0L509.0 686.3L518.0 685.0M59.0 607.3L67.3 611.0L74.7 617.0L82.0 622.7L88.2 625.8L92.0 624.5L92.0 630.7L94.4 633.0L98.0 632.5L101.8 636.8L106.7 643.0L111.6 649.0L116.5 654.0L121.5 656.0L126.4 657.8L128.8 661.5L135.0 662.7L138.0 663.0L145.5 667.5L151.0 672.0L160.0 675.0L175.0 674.0L178.0 675.4L190.4 678.5L202.7 686.0L207.0 696.0M59.3 613.5L62.4 618.4L67.3 623.3L67.3 627.0M98.0 630.7L102.0 632.0L105.5 635.5L108.0 639.3M240.0 695.0L244.0 692.5L250.0 693.0L255.0 695.0" fill="none" stroke="#000" stroke-width="1.35" stroke-linejoin="round" stroke-linecap="round"/>
<circle cx="168.0" cy="301.8" r="1.4" fill="#000"/>
<circle cx="174.4" cy="304.0" r="1.4" fill="#000"/>
<circle cx="186.7" cy="330.5" r="1.4" fill="#000"/>
<circle cx="193.8" cy="342.0" r="1.4" fill="#000"/>
<circle cx="198.8" cy="346.0" r="1.4" fill="#000"/>
<circle cx="203.0" cy="348.5" r="1.4" fill="#000"/>
<circle cx="206.0" cy="351.0" r="1.4" fill="#000"/>
<circle cx="212.0" cy="353.4" r="1.4" fill="#000"/>
<circle cx="221.0" cy="374.6" r="1.4" fill="#000"/>
<ellipse cx="397" cy="324" rx="1.3" ry="2.6" fill="#000" transform="rotate(20 397 324)"/>
<circle cx="270.6" cy="249.6" r="2.4" fill="none" stroke="#000" stroke-width="0.7"/>
<path d="M101.0 240.0L92.6 256.0M97.3 252.3L92.6 256.0L93.0 250.0M157.0 240.0L147.0 250.6M152.5 248.3L147.0 250.6L149.0 244.9M220.7 238.8L204.0 246.0M210.0 246.1L204.0 246.0L208.1 241.6M281.7 237.4L265.0 240.7M270.9 242.0L265.0 240.7L269.9 237.2M342.7 237.4L324.6 234.5M329.6 237.8L324.6 234.5L330.4 233.0M403.0 238.0L386.0 231.0M390.1 235.3L386.0 231.0L392.0 230.8M464.0 238.0L448.7 229.0M452.2 233.9L448.7 229.0L454.7 229.7M524.0 234.0L511.0 225.7M514.3 230.7L511.0 225.7L516.9 226.6M101.0 307.8L92.6 324.0M97.3 320.3L92.6 324.0L93.0 318.0M161.0 307.8L149.0 322.0M154.4 319.4L149.0 322.0L150.7 316.2M220.7 307.8L206.6 318.0M212.5 316.8L206.6 318.0L209.6 312.8M281.7 304.5L265.0 311.0M271.0 311.3L265.0 311.0L269.2 306.7M343.0 307.0L324.4 303.0M329.2 306.5L324.4 303.0L330.3 301.8M403.0 307.0L387.7 298.4M391.3 303.2L387.7 298.4L393.7 299.0M464.0 307.0L450.0 295.0M452.6 300.4L450.0 295.0L455.7 296.7M524.0 303.0L512.0 292.8M514.6 298.2L512.0 292.8L517.8 294.5M99.6 376.0L99.6 394.6M102.0 389.1L99.6 394.6L97.2 389.1M161.0 376.0L158.7 394.6M161.8 389.5L158.7 394.6L157.0 388.9M220.7 376.0L213.6 392.0M218.1 388.0L213.6 392.0L213.6 386.0M282.5 376.0L268.0 383.0M274.0 382.8L268.0 383.0L271.9 378.4M343.0 372.0L327.0 365.0M331.0 369.4L327.0 365.0L333.0 365.0M403.0 376.0L390.6 361.0M392.2 366.8L390.6 361.0L396.0 363.7M464.0 376.0L453.4 359.4M454.3 365.3L453.4 359.4L458.4 362.7M524.0 372.0L515.0 358.0M515.9 363.9L515.0 358.0L520.0 361.3M101.0 443.5L109.0 461.3M109.0 455.3L109.0 461.3L104.5 457.3M161.0 443.5L170.5 461.3M170.1 455.3L170.5 461.3L165.8 457.6M223.0 443.5L233.0 460.0M232.2 454.0L233.0 460.0L228.1 456.6M282.0 443.0L299.0 449.8M294.8 445.5L299.0 449.8L293.0 450.0M343.0 443.0L340.0 424.0M338.4 429.8L340.0 424.0L343.3 429.0M401.0 443.5L398.5 424.7M396.8 430.5L398.5 424.7L401.6 429.8M463.6 443.2L457.7 424.3M457.0 430.3L457.7 424.3L461.7 428.8M101.0 512.4L112.7 526.5M111.1 520.7L112.7 526.5L107.3 523.8M161.0 512.4L176.0 522.3M172.8 517.2L176.0 522.3L170.1 521.3M222.0 512.4L240.8 517.0M236.1 513.3L240.8 517.0L234.9 518.1M283.0 512.4L299.0 503.5M293.0 504.0L299.0 503.5L295.4 508.3M345.5 506.8L351.6 492.7M347.2 496.8L351.6 492.7L351.7 498.7M403.0 511.5L404.0 491.0M401.3 496.4L404.0 491.0L406.2 496.6M464.0 511.5L463.0 492.7M460.9 498.3L463.0 492.7L465.7 498.0M101.0 580.0L115.0 591.7M112.4 586.3L115.0 591.7L109.2 590.1M161.0 580.0L178.4 586.6M174.1 582.4L178.4 586.6L172.4 586.9M222.0 580.0L240.8 579.5M235.3 577.2L240.8 579.5L235.4 582.1M281.7 580.0L299.0 570.0M293.0 570.6L299.0 570.0L295.5 574.9M343.6 579.5L354.0 563.0M349.0 566.3L354.0 563.0L353.1 568.9M404.0 579.5L408.9 560.8M405.1 565.5L408.9 560.8L409.9 566.7M464.0 579.5L466.6 559.8M463.5 564.9L466.6 559.8L468.3 565.6M101.0 648.0L117.4 653.0M112.9 649.1L117.4 653.0L111.4 653.7M161.0 648.0L179.4 651.0M174.4 647.7L179.4 651.0L173.6 652.5M222.0 648.0L240.8 645.0M235.0 643.5L240.8 645.0L235.8 648.3M281.7 648.0L299.0 638.0M293.0 638.6L299.0 638.0L295.5 642.9M343.6 648.5L355.4 633.5M350.1 636.3L355.4 633.5L353.9 639.3M404.0 648.5L412.6 631.0M408.0 634.8L412.6 631.0L412.4 637.0M464.0 648.5L469.9 629.8M465.9 634.3L469.9 629.8L470.6 635.8" fill="none" stroke="#fff" stroke-width="1.1" stroke-linecap="round" stroke-linejoin="round"/>
<text x="131.5" y="474.0" class="cl" text-anchor="middle" transform="rotate(-55 131.5 474.0)" dy="3.6">30</text>
<text x="195.0" y="491.7" class="cl" text-anchor="middle" transform="rotate(-82 195.0 491.7)" dy="3.6">40</text>
<text x="358.6" y="658.5" class="cl" text-anchor="middle" transform="rotate(3 358.6 658.5)" dy="3.6">40</text>
<text x="505.0" y="598.0" class="cl" text-anchor="middle" transform="rotate(-48 505.0 598.0)" dy="3.6">40</text>
<text x="505.5" y="187.5" class="cl" text-anchor="middle" transform="rotate(42 505.5 187.5)" dy="3.6">40</text>
<text x="246.8" y="362.0" class="cl" text-anchor="middle" transform="rotate(-72 246.8 362.0)" dy="3.6">50</text>
<text x="448.6" y="393.0" class="cl" text-anchor="middle" transform="rotate(62 448.6 393.0)" dy="3.6">50</text>
<text x="325.5" y="581.5" class="cl" text-anchor="middle" transform="rotate(12 325.5 581.5)" dy="3.6">50</text>
<text x="247.0" y="443.5" class="cl" text-anchor="middle" transform="rotate(-80 247.0 443.5)" dy="3.6">60</text>
<text x="312.0" y="518.0" class="cl" text-anchor="middle" transform="rotate(15 312.0 518.0)" dy="3.6">60</text>
<text x="305.0" y="475.5" class="cl" text-anchor="middle" transform="rotate(-80 305.0 475.5)" dy="3.6">70</text>
<text x="321.0" y="455.5" class="cl" text-anchor="middle" transform="rotate(-80 321.0 455.5)" dy="3.6">80</text>
<text x="294.5" y="459.5" class="cl" style="font-size:7.5px" text-anchor="middle" transform="rotate(-35 294.5 459.5)" dy="2.6">50</text>
<text x="67.5" y="186.8" class="wr" textLength="94" lengthAdjust="spacingAndGlyphs">WIND RADII (NM)</text>
<text y="199.8" class="wr"><tspan x="71">QD</tspan><tspan x="116.3" text-anchor="end">34K</tspan><tspan x="144.8" text-anchor="end">50K</tspan><tspan x="173" text-anchor="end">64K</tspan></text>
<text y="215.8" class="wr"><tspan x="71">NE</tspan><tspan x="116.3" text-anchor="end">235</tspan><tspan x="144.8" text-anchor="end">88</tspan><tspan x="173" text-anchor="end">42</tspan></text>
<text y="231.8" class="wr"><tspan x="71">SE</tspan><tspan x="116.3" text-anchor="end">176</tspan><tspan x="144.8" text-anchor="end">92</tspan><tspan x="173" text-anchor="end">47</tspan></text>
<text y="247.8" class="wr"><tspan x="71">SW</tspan><tspan x="116.3" text-anchor="end">111</tspan><tspan x="144.8" text-anchor="end">46</tspan><tspan x="173" text-anchor="end">17</tspan></text>
<text y="264.0" class="wr"><tspan x="71">NW</tspan><tspan x="116.3" text-anchor="end">179</tspan><tspan x="144.8" text-anchor="end">49</tspan><tspan x="173" text-anchor="end">28</tspan></text>
<text x="65" y="689" textLength="310" lengthAdjust="spacing" class="bt" xml:space="preserve">Sandy - created on 2012-10-25 18:29:44 UTC</text>
</g>
<path d="M60.8 178v4.5M60.8 695v-4.5M72.3 178v4.5M72.3 695v-4.5M83.7 178v4.5M83.7 695v-4.5M95.2 178v4.5M95.2 695v-4.5M106.7 178v9.2M106.7 695v-9.2M118.2 178v4.5M118.2 695v-4.5M129.7 178v4.5M129.7 695v-4.5M141.1 178v4.5M141.1 695v-4.5M152.6 178v4.5M152.6 695v-4.5M164.1 178v4.5M164.1 695v-4.5M175.6 178v4.5M175.6 695v-4.5M187.1 178v4.5M187.1 695v-4.5M198.5 178v4.5M198.5 695v-4.5M210.0 178v4.5M210.0 695v-4.5M221.5 178v9.2M221.5 695v-9.2M233.0 178v4.5M233.0 695v-4.5M244.5 178v4.5M244.5 695v-4.5M255.9 178v4.5M255.9 695v-4.5M267.4 178v4.5M267.4 695v-4.5M278.9 178v4.5M278.9 695v-4.5M290.4 178v4.5M290.4 695v-4.5M301.9 178v4.5M301.9 695v-4.5M313.3 178v4.5M313.3 695v-4.5M324.8 178v4.5M324.8 695v-4.5M336.3 178v9.2M336.3 695v-9.2M347.8 178v4.5M347.8 695v-4.5M359.3 178v4.5M359.3 695v-4.5M370.7 178v4.5M370.7 695v-4.5M382.2 178v4.5M382.2 695v-4.5M393.7 178v4.5M393.7 695v-4.5M405.2 178v4.5M405.2 695v-4.5M416.7 178v4.5M416.7 695v-4.5M428.1 178v4.5M428.1 695v-4.5M439.6 178v4.5M439.6 695v-4.5M451.1 178v9.2M451.1 695v-9.2M462.6 178v4.5M462.6 695v-4.5M474.1 178v4.5M474.1 695v-4.5M485.5 178v4.5M485.5 695v-4.5M497.0 178v4.5M497.0 695v-4.5M508.5 178v4.5M508.5 695v-4.5M59 180.6h4.5M518 180.6h-4.5M59 193.5h9.2M518 193.5h-9.2M59 206.4h4.5M518 206.4h-4.5M59 219.4h4.5M518 219.4h-4.5M59 232.3h4.5M518 232.3h-4.5M59 245.2h4.5M518 245.2h-4.5M59 258.2h4.5M518 258.2h-4.5M59 271.1h4.5M518 271.1h-4.5M59 284.0h4.5M518 284.0h-4.5M59 297.0h4.5M518 297.0h-4.5M59 309.9h4.5M518 309.9h-4.5M59 322.9h9.2M518 322.9h-9.2M59 335.8h4.5M518 335.8h-4.5M59 348.7h4.5M518 348.7h-4.5M59 361.7h4.5M518 361.7h-4.5M59 374.6h4.5M518 374.6h-4.5M59 387.5h4.5M518 387.5h-4.5M59 400.5h4.5M518 400.5h-4.5M59 413.4h4.5M518 413.4h-4.5M59 426.3h4.5M518 426.3h-4.5M59 439.3h4.5M518 439.3h-4.5M59 452.2h9.2M518 452.2h-9.2M59 465.1h4.5M518 465.1h-4.5M59 478.1h4.5M518 478.1h-4.5M59 491.0h4.5M518 491.0h-4.5M59 503.9h4.5M518 503.9h-4.5M59 516.9h4.5M518 516.9h-4.5M59 529.8h4.5M518 529.8h-4.5M59 542.7h4.5M518 542.7h-4.5M59 555.7h4.5M518 555.7h-4.5M59 568.6h4.5M518 568.6h-4.5M59 581.5h9.2M518 581.5h-9.2M59 594.5h4.5M518 594.5h-4.5M59 607.4h4.5M518 607.4h-4.5M59 620.4h4.5M518 620.4h-4.5M59 633.3h4.5M518 633.3h-4.5M59 646.2h4.5M518 646.2h-4.5M59 659.2h4.5M518 659.2h-4.5M59 672.1h4.5M518 672.1h-4.5M59 685.0h4.5M518 685.0h-4.5" fill="none" stroke="#000" stroke-opacity="0.8" stroke-width="0.6" clip-path="url(#m)"/>
<text x="106.6" y="173.2" class="ax" text-anchor="middle" textLength="19.6" lengthAdjust="spacing">−77</text>
<text x="106.6" y="710" class="ax" text-anchor="middle" textLength="19.6" lengthAdjust="spacing">−77</text>
<text x="221.7" y="173.2" class="ax" text-anchor="middle" textLength="19.6" lengthAdjust="spacing">−76</text>
<text x="221.7" y="710" class="ax" text-anchor="middle" textLength="19.6" lengthAdjust="spacing">−76</text>
<text x="336.1" y="173.2" class="ax" text-anchor="middle" textLength="19.6" lengthAdjust="spacing">−75</text>
<text x="336.1" y="710" class="ax" text-anchor="middle" textLength="19.6" lengthAdjust="spacing">−75</text>
<text x="450.9" y="173.2" class="ax" text-anchor="middle" textLength="19.6" lengthAdjust="spacing">−74</text>
<text x="450.9" y="710" class="ax" text-anchor="middle" textLength="19.6" lengthAdjust="spacing">−74</text>
<text x="55.3" y="197.6" class="ax" text-anchor="end">25</text>
<text x="521.5" y="197.6" class="ax">25</text>
<text x="55.3" y="326.9" class="ax" text-anchor="end">24</text>
<text x="521.5" y="326.9" class="ax">24</text>
<text x="55.3" y="456.2" class="ax" text-anchor="end">23</text>
<text x="521.5" y="456.2" class="ax">23</text>
<text x="55.3" y="585.6" class="ax" text-anchor="end">22</text>
<text x="521.5" y="585.6" class="ax">22</text>
<text x="31.3" y="727.2" class="t" textLength="422.9" lengthAdjust="spacingAndGlyphs" >Integrated Kinetic Energy: for Winds &gt; TS force: 65 TJ, for Winds &gt; Hurricane Force: 6 TJ</text>
<text x="31.3" y="739.6" class="t" textLength="303.7" lengthAdjust="spacingAndGlyphs" xml:space="preserve">Destructive Potential Rating(0-6)  Wind: 2.5 , Surge/Waves: 4.1</text>
<text x="31.3" y="757.7" class="t" textLength="409.7" lengthAdjust="spacingAndGlyphs" >Observed Max. Surface Wind: 83 kts, 23 nm SE of center based on 1514 z SFMR_AFRC</text>
<text x="31.3" y="769.7" class="t" textLength="232.7" lengthAdjust="spacingAndGlyphs" xml:space="preserve">Analyzed Max. Wind: 83 kts, 21 nm  NE of center</text>
<text x="31.3" y="788.5" class="t" textLength="398.1" lengthAdjust="spacingAndGlyphs" xml:space="preserve">Uncertainty -&gt; mean wind speed error:  -0.47 kt, mean direction error:  -1.50 deg</text>
<text x="75.5" y="800.8" class="t" textLength="292.0" lengthAdjust="spacingAndGlyphs" >rms wind speed error: 6.01 kt, rms direction error: 10.66 deg</text>
<text x="31.3" y="825.0" class="b" textLength="101.9" lengthAdjust="spacingAndGlyphs" style="font-size:10px">Research product of</text>
<text x="141.4" y="825" textLength="323.6" lengthAdjust="spacing" style="font-size:13px;fill:#0808f4;stroke:#0808f4;stroke-width:0.3px">NOAA / AOML / Hurricane Research Division</text>
</svg></body></html>
